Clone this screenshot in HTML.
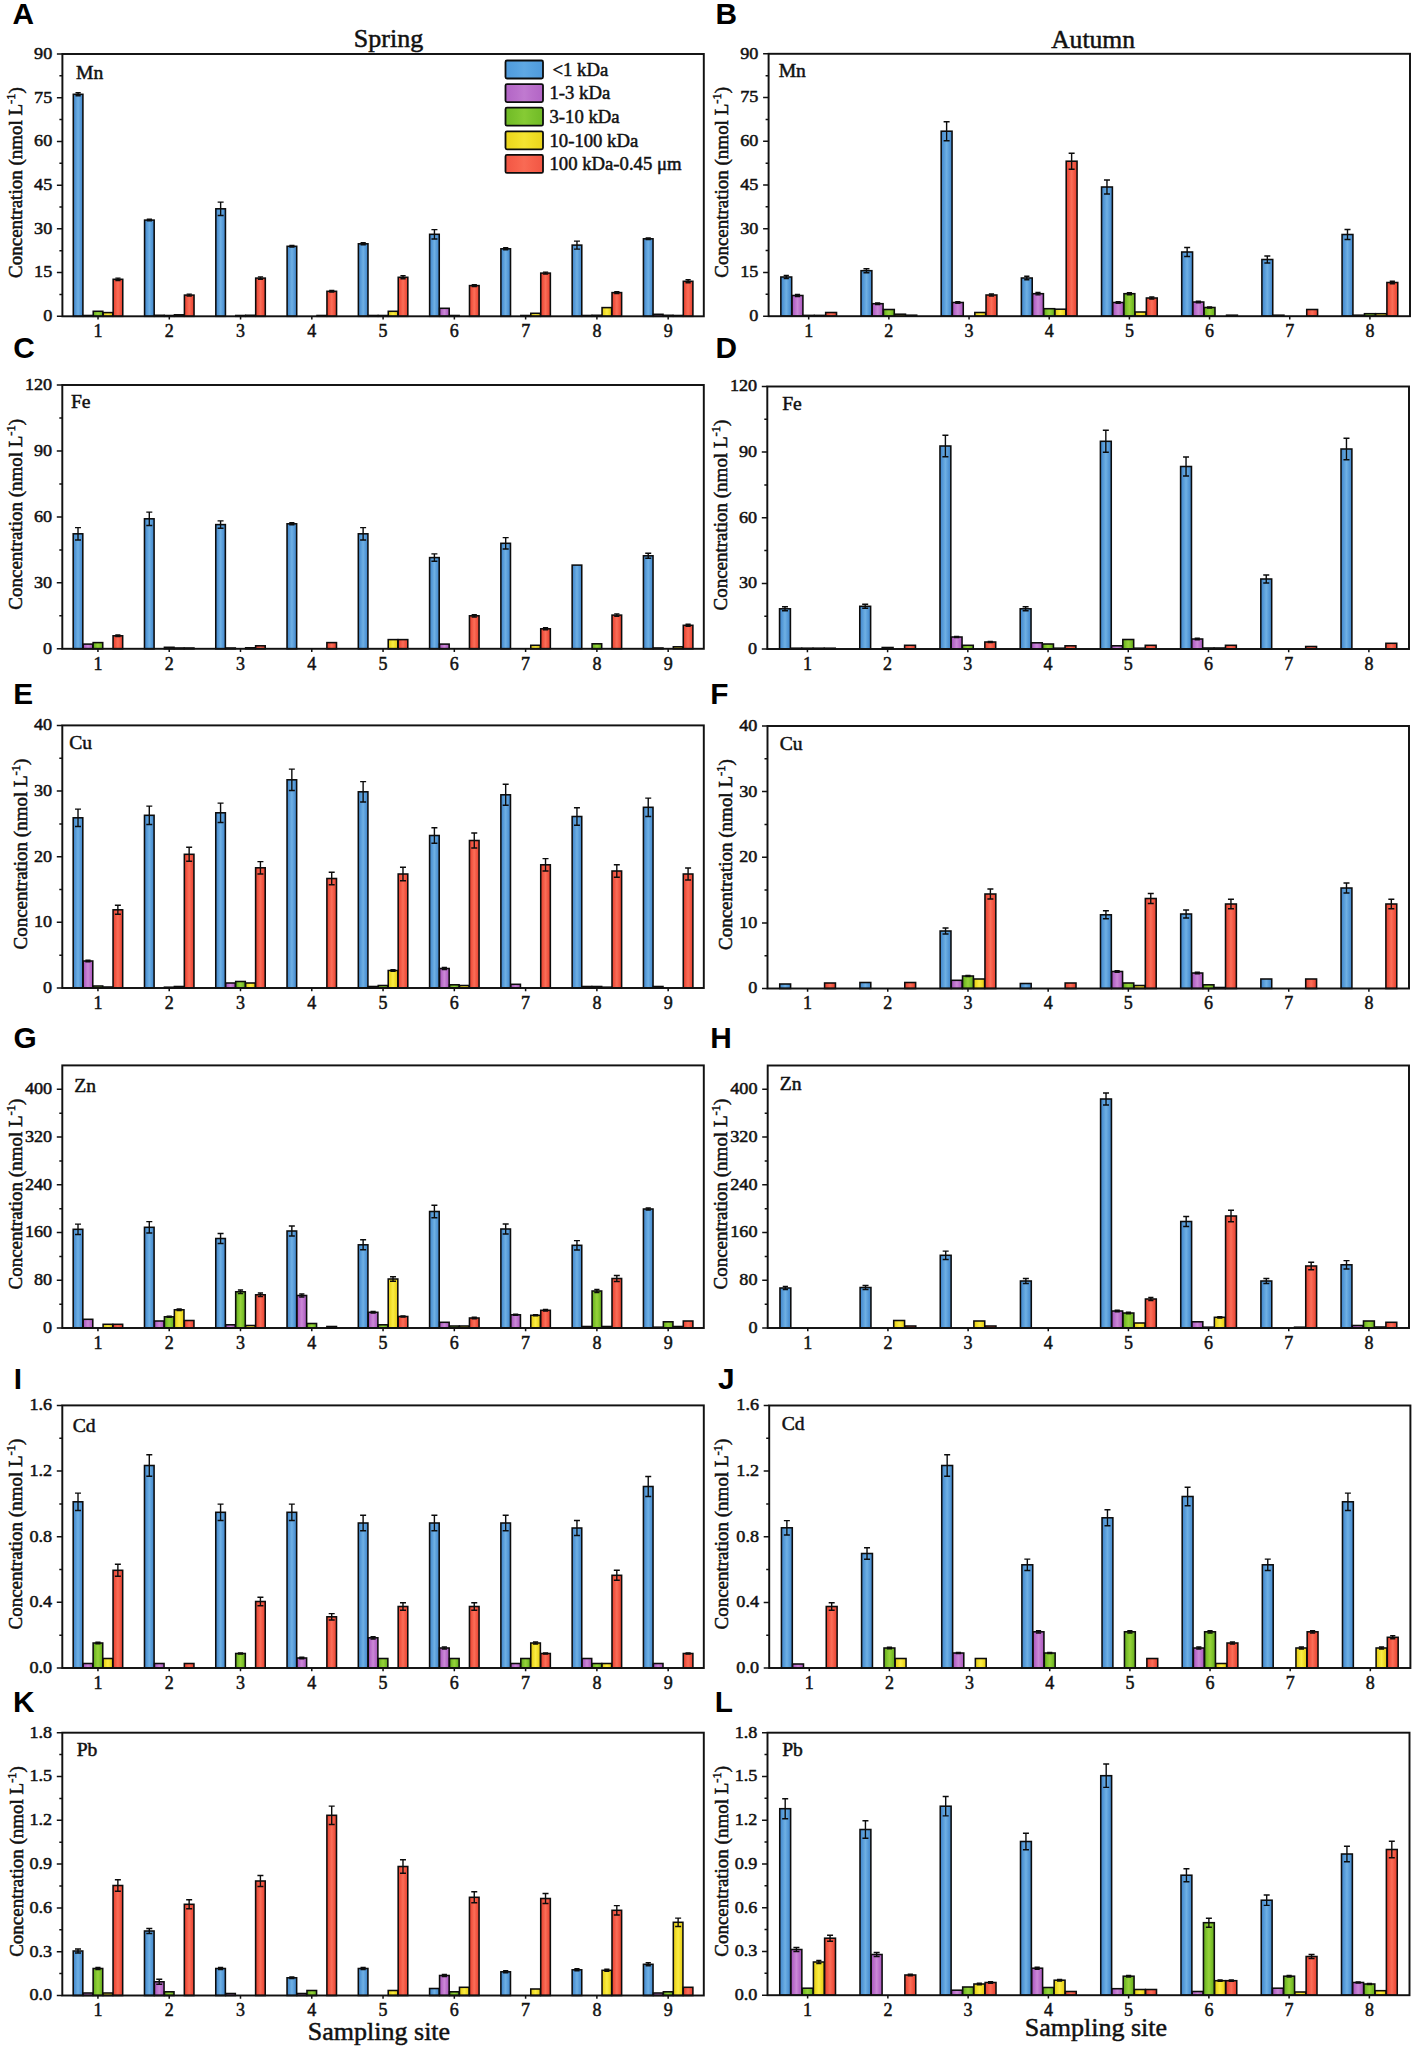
<!DOCTYPE html>
<html lang="en"><head><meta charset="utf-8"><title>Size-fractionated trace metals</title>
<style>html,body{margin:0;padding:0;background:#fff}svg{display:block}text{font-family:'Liberation Serif',serif;fill:#111;stroke:#111;stroke-width:0.5px;paint-order:stroke}.yt{font-size:16.8px;text-anchor:end}.xt{font-size:18px;text-anchor:middle}.el{font-size:19.6px}.yl{font-size:19px;text-anchor:middle}.lt{font-family:'Liberation Sans',sans-serif;font-weight:bold;font-size:29.8px;fill:#000;stroke:none}.ti{font-size:26.3px;text-anchor:middle}.xl{font-size:26px;text-anchor:middle}.lg{font-size:18.7px}.ax{stroke:#111;stroke-width:1.95;fill:none}.tk{stroke:#111;stroke-width:1.5;fill:none}.bar{stroke:#0c0c0c;stroke-width:1.55}.eb{stroke:#0c0c0c;stroke-width:1.4;fill:none}</style></head><body>
<svg width="1417" height="2056" viewBox="0 0 1417 2056">
<defs>
<linearGradient id="gb" x1="0" y1="0" x2="1" y2="0"><stop offset="0" stop-color="#3f84cb"/><stop offset="0.3" stop-color="#5a9eda"/><stop offset="0.5" stop-color="#6fb0e4"/><stop offset="0.7" stop-color="#5a9eda"/><stop offset="1" stop-color="#3f84cb"/></linearGradient>
<linearGradient id="gp" x1="0" y1="0" x2="1" y2="0"><stop offset="0" stop-color="#a955bd"/><stop offset="0.3" stop-color="#bd72cc"/><stop offset="0.5" stop-color="#cb88d6"/><stop offset="0.7" stop-color="#bd72cc"/><stop offset="1" stop-color="#a955bd"/></linearGradient>
<linearGradient id="gg" x1="0" y1="0" x2="1" y2="0"><stop offset="0" stop-color="#62a81c"/><stop offset="0.3" stop-color="#82c62e"/><stop offset="0.5" stop-color="#96d23a"/><stop offset="0.7" stop-color="#82c62e"/><stop offset="1" stop-color="#62a81c"/></linearGradient>
<linearGradient id="gy" x1="0" y1="0" x2="1" y2="0"><stop offset="0" stop-color="#e2c814"/><stop offset="0.3" stop-color="#f3e02c"/><stop offset="0.5" stop-color="#faec44"/><stop offset="0.7" stop-color="#f3e02c"/><stop offset="1" stop-color="#e2c814"/></linearGradient>
<linearGradient id="gr" x1="0" y1="0" x2="1" y2="0"><stop offset="0" stop-color="#e6402f"/><stop offset="0.3" stop-color="#f45a46"/><stop offset="0.5" stop-color="#fa6e58"/><stop offset="0.7" stop-color="#f45a46"/><stop offset="1" stop-color="#e6402f"/></linearGradient>
<linearGradient id="lb" x1="0" y1="0" x2="1" y2="0"><stop offset="0" stop-color="#4f9adb"/><stop offset="0.3" stop-color="#57a2e0"/><stop offset="0.5" stop-color="#5fa8e3"/><stop offset="0.7" stop-color="#57a2e0"/><stop offset="1" stop-color="#4f9adb"/></linearGradient>
<linearGradient id="lp" x1="0" y1="0" x2="1" y2="0"><stop offset="0" stop-color="#b265c5"/><stop offset="0.3" stop-color="#ba70cb"/><stop offset="0.5" stop-color="#c07ad0"/><stop offset="0.7" stop-color="#ba70cb"/><stop offset="1" stop-color="#b265c5"/></linearGradient>
<linearGradient id="lgn" x1="0" y1="0" x2="1" y2="0"><stop offset="0" stop-color="#70ba26"/><stop offset="0.3" stop-color="#7cc42e"/><stop offset="0.5" stop-color="#86cb34"/><stop offset="0.7" stop-color="#7cc42e"/><stop offset="1" stop-color="#70ba26"/></linearGradient>
<linearGradient id="ly" x1="0" y1="0" x2="1" y2="0"><stop offset="0" stop-color="#ead41c"/><stop offset="0.3" stop-color="#f1de26"/><stop offset="0.5" stop-color="#f5e432"/><stop offset="0.7" stop-color="#f1de26"/><stop offset="1" stop-color="#ead41c"/></linearGradient>
<linearGradient id="lr" x1="0" y1="0" x2="1" y2="0"><stop offset="0" stop-color="#f15644"/><stop offset="0.3" stop-color="#f7614c"/><stop offset="0.5" stop-color="#f96a54"/><stop offset="0.7" stop-color="#f7614c"/><stop offset="1" stop-color="#f15644"/></linearGradient>
</defs>
<rect width="1417" height="2056" fill="#fff"/>
<g id="panel-A">
<rect class="bar" x="73.3" y="94.3" width="9.61" height="222" fill="url(#gb)"/>
<path class="eb" d="M78.11 92.8V95.8M75.51 92.8H80.71M75.51 95.8H80.71"/>
<rect class="bar" x="83.26" y="315.5" width="9.61" height="0.8" fill="url(#gp)"/>
<rect class="bar" x="93.23" y="311.3" width="9.61" height="5" fill="url(#gg)"/>
<rect class="bar" x="103.19" y="312.6" width="9.61" height="3.7" fill="url(#gy)"/>
<rect class="bar" x="113.15" y="279.3" width="9.61" height="37" fill="url(#gr)"/>
<path class="eb" d="M117.96 278.1V280.5M115.36 278.1H120.56M115.36 280.5H120.56"/>
<rect class="bar" x="144.57" y="220.1" width="9.61" height="96.2" fill="url(#gb)"/>
<path class="eb" d="M149.37 219.3V220.9M146.77 219.3H151.97M146.77 220.9H151.97"/>
<rect class="bar" x="154.53" y="315.3" width="9.61" height="1" fill="url(#gp)"/>
<rect class="bar" x="164.49" y="315.5" width="9.61" height="0.8" fill="url(#gg)"/>
<rect class="bar" x="174.46" y="314.8" width="9.61" height="1.5" fill="url(#gy)"/>
<rect class="bar" x="184.42" y="295.1" width="9.61" height="21.2" fill="url(#gr)"/>
<path class="eb" d="M189.23 294.1V296.1M186.63 294.1H191.83M186.63 296.1H191.83"/>
<rect class="bar" x="215.83" y="208.8" width="9.61" height="107.5" fill="url(#gb)"/>
<path class="eb" d="M220.64 202.1V215.5M217.64 202.1H223.64M217.64 215.5H223.64"/>
<rect class="bar" x="235.76" y="315.5" width="9.61" height="0.8" fill="url(#gg)"/>
<rect class="bar" x="245.72" y="315.3" width="9.61" height="1" fill="url(#gy)"/>
<rect class="bar" x="255.69" y="278.1" width="9.61" height="38.2" fill="url(#gr)"/>
<path class="eb" d="M260.49 276.9V279.3M257.89 276.9H263.09M257.89 279.3H263.09"/>
<rect class="bar" x="287.1" y="246.3" width="9.61" height="70" fill="url(#gb)"/>
<path class="eb" d="M291.91 245.5V247.1M289.31 245.5H294.51M289.31 247.1H294.51"/>
<rect class="bar" x="316.99" y="315.5" width="9.61" height="0.8" fill="url(#gy)"/>
<rect class="bar" x="326.95" y="291.3" width="9.61" height="25" fill="url(#gr)"/>
<path class="eb" d="M331.76 290.5V292.1M329.16 290.5H334.36M329.16 292.1H334.36"/>
<rect class="bar" x="358.37" y="243.8" width="9.61" height="72.5" fill="url(#gb)"/>
<path class="eb" d="M363.17 242.8V244.8M360.57 242.8H365.77M360.57 244.8H365.77"/>
<rect class="bar" x="368.33" y="315.5" width="9.61" height="0.8" fill="url(#gp)"/>
<rect class="bar" x="378.29" y="315.5" width="9.61" height="0.8" fill="url(#gg)"/>
<rect class="bar" x="388.26" y="311.3" width="9.61" height="5" fill="url(#gy)"/>
<rect class="bar" x="398.22" y="277.3" width="9.61" height="39" fill="url(#gr)"/>
<path class="eb" d="M403.03 275.8V278.8M400.43 275.8H405.63M400.43 278.8H405.63"/>
<rect class="bar" x="429.63" y="234.3" width="9.61" height="82" fill="url(#gb)"/>
<path class="eb" d="M434.44 229.6V239M431.44 229.6H437.44M431.44 239H437.44"/>
<rect class="bar" x="439.6" y="308.3" width="9.61" height="8" fill="url(#gp)"/>
<rect class="bar" x="449.56" y="315.5" width="9.61" height="0.8" fill="url(#gg)"/>
<rect class="bar" x="469.49" y="285.6" width="9.61" height="30.7" fill="url(#gr)"/>
<path class="eb" d="M474.29 284.6V286.6M471.69 284.6H476.89M471.69 286.6H476.89"/>
<rect class="bar" x="500.9" y="248.8" width="9.61" height="67.5" fill="url(#gb)"/>
<path class="eb" d="M505.71 247.8V249.8M503.11 247.8H508.31M503.11 249.8H508.31"/>
<rect class="bar" x="520.83" y="315.5" width="9.61" height="0.8" fill="url(#gg)"/>
<rect class="bar" x="530.79" y="313.3" width="9.61" height="3" fill="url(#gy)"/>
<rect class="bar" x="540.75" y="273.1" width="9.61" height="43.2" fill="url(#gr)"/>
<path class="eb" d="M545.56 272.1V274.1M542.96 272.1H548.16M542.96 274.1H548.16"/>
<rect class="bar" x="572.17" y="245.1" width="9.61" height="71.2" fill="url(#gb)"/>
<path class="eb" d="M576.97 241.1V249.1M573.97 241.1H579.97M573.97 249.1H579.97"/>
<rect class="bar" x="582.13" y="315.5" width="9.61" height="0.8" fill="url(#gp)"/>
<rect class="bar" x="592.09" y="315.3" width="9.61" height="1" fill="url(#gg)"/>
<rect class="bar" x="602.06" y="307.6" width="9.61" height="8.7" fill="url(#gy)"/>
<rect class="bar" x="612.02" y="292.6" width="9.61" height="23.7" fill="url(#gr)"/>
<path class="eb" d="M616.83 291.6V293.6M614.23 291.6H619.43M614.23 293.6H619.43"/>
<rect class="bar" x="643.43" y="238.8" width="9.61" height="77.5" fill="url(#gb)"/>
<path class="eb" d="M648.24 238V239.6M645.64 238H650.84M645.64 239.6H650.84"/>
<rect class="bar" x="653.4" y="314.3" width="9.61" height="2" fill="url(#gp)"/>
<rect class="bar" x="663.36" y="315.3" width="9.61" height="1" fill="url(#gg)"/>
<rect class="bar" x="673.32" y="315.5" width="9.61" height="0.8" fill="url(#gy)"/>
<rect class="bar" x="683.29" y="281.3" width="9.61" height="35" fill="url(#gr)"/>
<path class="eb" d="M688.09 279.8V282.8M685.49 279.8H690.69M685.49 282.8H690.69"/>
<rect class="ax" x="62.4" y="54" width="641.4" height="262.3"/>
<text class="yt" transform="translate(52.2 321.2) scale(1.08 1)">0</text>
<text class="yt" transform="translate(52.2 277.48) scale(1.08 1)">15</text>
<text class="yt" transform="translate(52.2 233.77) scale(1.08 1)">30</text>
<text class="yt" transform="translate(52.2 190.05) scale(1.08 1)">45</text>
<text class="yt" transform="translate(52.2 146.33) scale(1.08 1)">60</text>
<text class="yt" transform="translate(52.2 102.62) scale(1.08 1)">75</text>
<text class="yt" transform="translate(52.2 58.9) scale(1.08 1)">90</text>
<text class="xt" x="98.03" y="337">1</text>
<text class="xt" x="169.3" y="337">2</text>
<text class="xt" x="240.57" y="337">3</text>
<text class="xt" x="311.83" y="337">4</text>
<text class="xt" x="383.1" y="337">5</text>
<text class="xt" x="454.37" y="337">6</text>
<text class="xt" x="525.63" y="337">7</text>
<text class="xt" x="596.9" y="337">8</text>
<text class="xt" x="668.17" y="337">9</text>
<path class="tk" d="M56.9 316.3H62.4M56.9 272.58H62.4M56.9 228.87H62.4M56.9 185.15H62.4M56.9 141.43H62.4M56.9 97.72H62.4M56.9 54H62.4M59.4 294.44H62.4M59.4 250.73H62.4M59.4 207.01H62.4M59.4 163.29H62.4M59.4 119.58H62.4M59.4 75.86H62.4M98.03 316.3V319.5M169.3 316.3V319.5M240.57 316.3V319.5M311.83 316.3V319.5M383.1 316.3V319.5M454.37 316.3V319.5M525.63 316.3V319.5M596.9 316.3V319.5M668.17 316.3V319.5"/>
<text class="el" x="76" y="78.6">Mn</text>
<text class="yl" transform="translate(22 182.55) rotate(-90) scale(1 0.98)">Concentration (nmol L<tspan font-size="12.5" dy="-7">-1</tspan><tspan dy="7">)</tspan></text>
<text class="lt" x="12.46" y="23.7">A</text>
</g>
<g id="panel-B">
<rect class="bar" x="780.84" y="277" width="10.86" height="39.2" fill="url(#gb)"/>
<path class="eb" d="M786.27 275.5V278.5M783.67 275.5H788.87M783.67 278.5H788.87"/>
<rect class="bar" x="792.05" y="295.5" width="10.86" height="20.7" fill="url(#gp)"/>
<path class="eb" d="M797.48 294.5V296.5M794.88 294.5H800.08M794.88 296.5H800.08"/>
<rect class="bar" x="803.26" y="315.4" width="10.86" height="0.8" fill="url(#gg)"/>
<rect class="bar" x="814.47" y="315.4" width="10.86" height="0.8" fill="url(#gy)"/>
<rect class="bar" x="825.68" y="312.5" width="10.86" height="3.7" fill="url(#gr)"/>
<rect class="bar" x="861.02" y="270.7" width="10.86" height="45.5" fill="url(#gb)"/>
<path class="eb" d="M866.45 268.7V272.7M863.45 268.7H869.45M863.45 272.7H869.45"/>
<rect class="bar" x="872.22" y="303.7" width="10.86" height="12.5" fill="url(#gp)"/>
<path class="eb" d="M877.65 302.9V304.5M875.05 302.9H880.25M875.05 304.5H880.25"/>
<rect class="bar" x="883.43" y="309.5" width="10.86" height="6.7" fill="url(#gg)"/>
<rect class="bar" x="894.64" y="314.2" width="10.86" height="2" fill="url(#gy)"/>
<rect class="bar" x="905.85" y="315.2" width="10.86" height="1" fill="url(#gr)"/>
<rect class="bar" x="941.19" y="131.2" width="10.86" height="185" fill="url(#gb)"/>
<path class="eb" d="M946.62 121.7V140.7M943.62 121.7H949.62M943.62 140.7H949.62"/>
<rect class="bar" x="952.4" y="302.5" width="10.86" height="13.7" fill="url(#gp)"/>
<path class="eb" d="M957.83 301.7V303.3M955.23 301.7H960.43M955.23 303.3H960.43"/>
<rect class="bar" x="974.82" y="312.5" width="10.86" height="3.7" fill="url(#gy)"/>
<rect class="bar" x="986.03" y="295" width="10.86" height="21.2" fill="url(#gr)"/>
<path class="eb" d="M991.45 294V296M988.85 294H994.05M988.85 296H994.05"/>
<rect class="bar" x="1021.37" y="278" width="10.86" height="38.2" fill="url(#gb)"/>
<path class="eb" d="M1026.8 276.2V279.8M1024.2 276.2H1029.4M1024.2 279.8H1029.4"/>
<rect class="bar" x="1032.57" y="293.7" width="10.86" height="22.5" fill="url(#gp)"/>
<path class="eb" d="M1038 292.5V294.9M1035.4 292.5H1040.6M1035.4 294.9H1040.6"/>
<rect class="bar" x="1043.78" y="308.7" width="10.86" height="7.5" fill="url(#gg)"/>
<rect class="bar" x="1054.99" y="309.2" width="10.86" height="7" fill="url(#gy)"/>
<rect class="bar" x="1066.2" y="161.2" width="10.86" height="155" fill="url(#gr)"/>
<path class="eb" d="M1071.63 153.2V169.2M1068.63 153.2H1074.63M1068.63 169.2H1074.63"/>
<rect class="bar" x="1101.54" y="187" width="10.86" height="129.2" fill="url(#gb)"/>
<path class="eb" d="M1106.97 180V194M1103.97 180H1109.97M1103.97 194H1109.97"/>
<rect class="bar" x="1112.75" y="302.5" width="10.86" height="13.7" fill="url(#gp)"/>
<path class="eb" d="M1118.18 301.7V303.3M1115.58 301.7H1120.78M1115.58 303.3H1120.78"/>
<rect class="bar" x="1123.96" y="293.7" width="10.86" height="22.5" fill="url(#gg)"/>
<path class="eb" d="M1129.39 292.7V294.7M1126.79 292.7H1131.99M1126.79 294.7H1131.99"/>
<rect class="bar" x="1135.17" y="312" width="10.86" height="4.2" fill="url(#gy)"/>
<rect class="bar" x="1146.38" y="298" width="10.86" height="18.2" fill="url(#gr)"/>
<path class="eb" d="M1151.8 297V299M1149.2 297H1154.4M1149.2 299H1154.4"/>
<rect class="bar" x="1181.72" y="252" width="10.86" height="64.2" fill="url(#gb)"/>
<path class="eb" d="M1187.15 247.5V256.5M1184.15 247.5H1190.15M1184.15 256.5H1190.15"/>
<rect class="bar" x="1192.92" y="302" width="10.86" height="14.2" fill="url(#gp)"/>
<path class="eb" d="M1198.35 301.2V302.8M1195.75 301.2H1200.95M1195.75 302.8H1200.95"/>
<rect class="bar" x="1204.13" y="307.5" width="10.86" height="8.7" fill="url(#gg)"/>
<path class="eb" d="M1209.56 306.9V308.1M1206.96 306.9H1212.16M1206.96 308.1H1212.16"/>
<rect class="bar" x="1226.55" y="315.2" width="10.86" height="1" fill="url(#gr)"/>
<rect class="bar" x="1261.89" y="259.5" width="10.86" height="56.7" fill="url(#gb)"/>
<path class="eb" d="M1267.32 256V263M1264.32 256H1270.32M1264.32 263H1270.32"/>
<rect class="bar" x="1273.1" y="315.2" width="10.86" height="1" fill="url(#gp)"/>
<rect class="bar" x="1306.73" y="309.5" width="10.86" height="6.7" fill="url(#gr)"/>
<rect class="bar" x="1342.07" y="234.5" width="10.86" height="81.7" fill="url(#gb)"/>
<path class="eb" d="M1347.5 229.5V239.5M1344.5 229.5H1350.5M1344.5 239.5H1350.5"/>
<rect class="bar" x="1353.27" y="315.2" width="10.86" height="1" fill="url(#gp)"/>
<rect class="bar" x="1364.48" y="313.7" width="10.86" height="2.5" fill="url(#gg)"/>
<rect class="bar" x="1375.69" y="313.7" width="10.86" height="2.5" fill="url(#gy)"/>
<rect class="bar" x="1386.9" y="282.5" width="10.86" height="33.7" fill="url(#gr)"/>
<path class="eb" d="M1392.33 281.3V283.7M1389.73 281.3H1394.93M1389.73 283.7H1394.93"/>
<rect class="ax" x="768.6" y="53.8" width="641.4" height="262.4"/>
<text class="yt" transform="translate(758.4 321.1) scale(1.08 1)">0</text>
<text class="yt" transform="translate(758.4 277.37) scale(1.08 1)">15</text>
<text class="yt" transform="translate(758.4 233.63) scale(1.08 1)">30</text>
<text class="yt" transform="translate(758.4 189.9) scale(1.08 1)">45</text>
<text class="yt" transform="translate(758.4 146.17) scale(1.08 1)">60</text>
<text class="yt" transform="translate(758.4 102.43) scale(1.08 1)">75</text>
<text class="yt" transform="translate(758.4 58.7) scale(1.08 1)">90</text>
<text class="xt" x="808.69" y="336.9">1</text>
<text class="xt" x="888.86" y="336.9">2</text>
<text class="xt" x="969.04" y="336.9">3</text>
<text class="xt" x="1049.21" y="336.9">4</text>
<text class="xt" x="1129.39" y="336.9">5</text>
<text class="xt" x="1209.56" y="336.9">6</text>
<text class="xt" x="1289.74" y="336.9">7</text>
<text class="xt" x="1369.91" y="336.9">8</text>
<path class="tk" d="M763.1 316.2H768.6M763.1 272.47H768.6M763.1 228.73H768.6M763.1 185H768.6M763.1 141.27H768.6M763.1 97.53H768.6M763.1 53.8H768.6M765.6 294.33H768.6M765.6 250.6H768.6M765.6 206.87H768.6M765.6 163.13H768.6M765.6 119.4H768.6M765.6 75.67H768.6M808.69 316.2V319.4M888.86 316.2V319.4M969.04 316.2V319.4M1049.21 316.2V319.4M1129.39 316.2V319.4M1209.56 316.2V319.4M1289.74 316.2V319.4M1369.91 316.2V319.4"/>
<text class="el" x="778.7" y="77.2">Mn</text>
<text class="yl" transform="translate(728.3 182.4) rotate(-90) scale(1 0.98)">Concentration (nmol L<tspan font-size="12.5" dy="-7">-1</tspan><tspan dy="7">)</tspan></text>
<text class="lt" x="715.46" y="23.8">B</text>
</g>
<g id="panel-C">
<rect class="bar" x="73.2" y="533.8" width="9.61" height="115" fill="url(#gb)"/>
<path class="eb" d="M78.01 527.6V540M75.01 527.6H81.01M75.01 540H81.01"/>
<rect class="bar" x="83.17" y="644.1" width="9.61" height="4.7" fill="url(#gp)"/>
<rect class="bar" x="93.13" y="642.6" width="9.61" height="6.2" fill="url(#gg)"/>
<rect class="bar" x="113.06" y="635.8" width="9.61" height="13" fill="url(#gr)"/>
<path class="eb" d="M117.87 635V636.6M115.27 635H120.47M115.27 636.6H120.47"/>
<rect class="bar" x="144.48" y="518.8" width="9.61" height="130" fill="url(#gb)"/>
<path class="eb" d="M149.29 512.1V525.5M146.29 512.1H152.29M146.29 525.5H152.29"/>
<rect class="bar" x="164.41" y="647.3" width="9.61" height="1.5" fill="url(#gg)"/>
<rect class="bar" x="174.37" y="648" width="9.61" height="0.8" fill="url(#gy)"/>
<rect class="bar" x="184.34" y="648" width="9.61" height="0.8" fill="url(#gr)"/>
<rect class="bar" x="215.76" y="524.6" width="9.61" height="124.2" fill="url(#gb)"/>
<path class="eb" d="M220.57 520.9V528.3M217.57 520.9H223.57M217.57 528.3H223.57"/>
<rect class="bar" x="225.72" y="648" width="9.61" height="0.8" fill="url(#gp)"/>
<rect class="bar" x="245.65" y="647.8" width="9.61" height="1" fill="url(#gy)"/>
<rect class="bar" x="255.62" y="645.8" width="9.61" height="3" fill="url(#gr)"/>
<rect class="bar" x="287.04" y="523.8" width="9.61" height="125" fill="url(#gb)"/>
<path class="eb" d="M291.84 522.8V524.8M289.24 522.8H294.44M289.24 524.8H294.44"/>
<rect class="bar" x="326.89" y="642.6" width="9.61" height="6.2" fill="url(#gr)"/>
<rect class="bar" x="358.31" y="533.8" width="9.61" height="115" fill="url(#gb)"/>
<path class="eb" d="M363.12 527.6V540M360.12 527.6H366.12M360.12 540H366.12"/>
<rect class="bar" x="388.21" y="639.6" width="9.61" height="9.2" fill="url(#gy)"/>
<rect class="bar" x="398.17" y="639.6" width="9.61" height="9.2" fill="url(#gr)"/>
<rect class="bar" x="429.59" y="557.6" width="9.61" height="91.2" fill="url(#gb)"/>
<path class="eb" d="M434.4 553.9V561.3M431.4 553.9H437.4M431.4 561.3H437.4"/>
<rect class="bar" x="439.56" y="644.1" width="9.61" height="4.7" fill="url(#gp)"/>
<rect class="bar" x="469.45" y="615.8" width="9.61" height="33" fill="url(#gr)"/>
<path class="eb" d="M474.26 614.6V617M471.66 614.6H476.86M471.66 617H476.86"/>
<rect class="bar" x="500.87" y="543.3" width="9.61" height="105.5" fill="url(#gb)"/>
<path class="eb" d="M505.68 537.6V549M502.68 537.6H508.68M502.68 549H508.68"/>
<rect class="bar" x="530.76" y="645.3" width="9.61" height="3.5" fill="url(#gy)"/>
<rect class="bar" x="540.73" y="628.8" width="9.61" height="20" fill="url(#gr)"/>
<path class="eb" d="M545.53 627.8V629.8M542.93 627.8H548.13M542.93 629.8H548.13"/>
<rect class="bar" x="572.15" y="565.1" width="9.61" height="83.7" fill="url(#gb)"/>
<rect class="bar" x="592.08" y="643.8" width="9.61" height="5" fill="url(#gg)"/>
<rect class="bar" x="612.01" y="615.1" width="9.61" height="33.7" fill="url(#gr)"/>
<path class="eb" d="M616.81 613.9V616.3M614.21 613.9H619.41M614.21 616.3H619.41"/>
<rect class="bar" x="643.42" y="555.8" width="9.61" height="93" fill="url(#gb)"/>
<path class="eb" d="M648.23 553.3V558.3M645.23 553.3H651.23M645.23 558.3H651.23"/>
<rect class="bar" x="653.39" y="648" width="9.61" height="0.8" fill="url(#gp)"/>
<rect class="bar" x="673.32" y="646.8" width="9.61" height="2" fill="url(#gy)"/>
<rect class="bar" x="683.28" y="625.3" width="9.61" height="23.5" fill="url(#gr)"/>
<path class="eb" d="M688.09 624.3V626.3M685.49 624.3H690.69M685.49 626.3H690.69"/>
<rect class="ax" x="62.3" y="385" width="641.5" height="263.8"/>
<text class="yt" transform="translate(52.1 653.7) scale(1.08 1)">0</text>
<text class="yt" transform="translate(52.1 587.75) scale(1.08 1)">30</text>
<text class="yt" transform="translate(52.1 521.8) scale(1.08 1)">60</text>
<text class="yt" transform="translate(52.1 455.85) scale(1.08 1)">90</text>
<text class="yt" transform="translate(52.1 389.9) scale(1.08 1)">120</text>
<text class="xt" x="97.94" y="669.5">1</text>
<text class="xt" x="169.22" y="669.5">2</text>
<text class="xt" x="240.49" y="669.5">3</text>
<text class="xt" x="311.77" y="669.5">4</text>
<text class="xt" x="383.05" y="669.5">5</text>
<text class="xt" x="454.33" y="669.5">6</text>
<text class="xt" x="525.61" y="669.5">7</text>
<text class="xt" x="596.88" y="669.5">8</text>
<text class="xt" x="668.16" y="669.5">9</text>
<path class="tk" d="M56.8 648.8H62.3M56.8 582.85H62.3M56.8 516.9H62.3M56.8 450.95H62.3M56.8 385H62.3M59.3 615.82H62.3M59.3 549.88H62.3M59.3 483.92H62.3M59.3 417.98H62.3M97.94 648.8V652M169.22 648.8V652M240.49 648.8V652M311.77 648.8V652M383.05 648.8V652M454.33 648.8V652M525.61 648.8V652M596.88 648.8V652M668.16 648.8V652"/>
<text class="el" x="70.9" y="408.3">Fe</text>
<text class="yl" transform="translate(21.7 514.3) rotate(-90) scale(1 0.98)">Concentration (nmol L<tspan font-size="12.5" dy="-7">-1</tspan><tspan dy="7">)</tspan></text>
<text class="lt" x="13.21" y="357.7">C</text>
</g>
<g id="panel-D">
<rect class="bar" x="779.55" y="608.8" width="10.86" height="40.2" fill="url(#gb)"/>
<path class="eb" d="M784.98 606.8V610.8M781.98 606.8H787.98M781.98 610.8H787.98"/>
<rect class="bar" x="790.76" y="648.2" width="10.86" height="0.8" fill="url(#gp)"/>
<rect class="bar" x="801.97" y="648.2" width="10.86" height="0.8" fill="url(#gg)"/>
<rect class="bar" x="813.19" y="648.2" width="10.86" height="0.8" fill="url(#gy)"/>
<rect class="bar" x="824.4" y="648.2" width="10.86" height="0.8" fill="url(#gr)"/>
<rect class="bar" x="859.76" y="606.3" width="10.86" height="42.7" fill="url(#gb)"/>
<path class="eb" d="M865.19 604.3V608.3M862.19 604.3H868.19M862.19 608.3H868.19"/>
<rect class="bar" x="882.19" y="647.5" width="10.86" height="1.5" fill="url(#gg)"/>
<rect class="bar" x="904.61" y="645.3" width="10.86" height="3.7" fill="url(#gr)"/>
<rect class="bar" x="939.97" y="446" width="10.86" height="203" fill="url(#gb)"/>
<path class="eb" d="M945.4 435.3V456.7M942.4 435.3H948.4M942.4 456.7H948.4"/>
<rect class="bar" x="951.19" y="637" width="10.86" height="12" fill="url(#gp)"/>
<path class="eb" d="M956.62 636.4V637.6M954.02 636.4H959.22M954.02 637.6H959.22"/>
<rect class="bar" x="962.4" y="645.3" width="10.86" height="3.7" fill="url(#gg)"/>
<rect class="bar" x="984.83" y="642" width="10.86" height="7" fill="url(#gr)"/>
<path class="eb" d="M990.26 641.5V642.5M987.66 641.5H992.86M987.66 642.5H992.86"/>
<rect class="bar" x="1020.18" y="608.8" width="10.86" height="40.2" fill="url(#gb)"/>
<path class="eb" d="M1025.62 606.8V610.8M1022.62 606.8H1028.62M1022.62 610.8H1028.62"/>
<rect class="bar" x="1031.4" y="642.8" width="10.86" height="6.2" fill="url(#gp)"/>
<rect class="bar" x="1042.61" y="644" width="10.86" height="5" fill="url(#gg)"/>
<rect class="bar" x="1053.83" y="648.2" width="10.86" height="0.8" fill="url(#gy)"/>
<rect class="bar" x="1065.04" y="645.8" width="10.86" height="3.2" fill="url(#gr)"/>
<rect class="bar" x="1100.4" y="441.3" width="10.86" height="207.7" fill="url(#gb)"/>
<path class="eb" d="M1105.83 430.3V452.3M1102.83 430.3H1108.83M1102.83 452.3H1108.83"/>
<rect class="bar" x="1111.61" y="645.8" width="10.86" height="3.2" fill="url(#gp)"/>
<rect class="bar" x="1122.82" y="639.5" width="10.86" height="9.5" fill="url(#gg)"/>
<rect class="bar" x="1134.04" y="648.2" width="10.86" height="0.8" fill="url(#gy)"/>
<rect class="bar" x="1145.25" y="645.3" width="10.86" height="3.7" fill="url(#gr)"/>
<rect class="bar" x="1180.61" y="466.5" width="10.86" height="182.5" fill="url(#gb)"/>
<path class="eb" d="M1186.04 457V476M1183.04 457H1189.04M1183.04 476H1189.04"/>
<rect class="bar" x="1191.82" y="639" width="10.86" height="10" fill="url(#gp)"/>
<path class="eb" d="M1197.26 638.3V639.7M1194.66 638.3H1199.86M1194.66 639.7H1199.86"/>
<rect class="bar" x="1203.04" y="648" width="10.86" height="1" fill="url(#gg)"/>
<rect class="bar" x="1214.25" y="648" width="10.86" height="1" fill="url(#gy)"/>
<rect class="bar" x="1225.46" y="645.3" width="10.86" height="3.7" fill="url(#gr)"/>
<rect class="bar" x="1260.82" y="579" width="10.86" height="70" fill="url(#gb)"/>
<path class="eb" d="M1266.25 575V583M1263.25 575H1269.25M1263.25 583H1269.25"/>
<rect class="bar" x="1305.68" y="646.5" width="10.86" height="2.5" fill="url(#gr)"/>
<rect class="bar" x="1341.03" y="449" width="10.86" height="200" fill="url(#gb)"/>
<path class="eb" d="M1346.47 438.3V459.7M1343.47 438.3H1349.47M1343.47 459.7H1349.47"/>
<rect class="bar" x="1385.89" y="643.3" width="10.86" height="5.7" fill="url(#gr)"/>
<rect class="ax" x="767.3" y="386.5" width="641.7" height="262.5"/>
<text class="yt" transform="translate(757.1 653.9) scale(1.08 1)">0</text>
<text class="yt" transform="translate(757.1 588.27) scale(1.08 1)">30</text>
<text class="yt" transform="translate(757.1 522.65) scale(1.08 1)">60</text>
<text class="yt" transform="translate(757.1 457.02) scale(1.08 1)">90</text>
<text class="yt" transform="translate(757.1 391.4) scale(1.08 1)">120</text>
<text class="xt" x="807.41" y="669.7">1</text>
<text class="xt" x="887.62" y="669.7">2</text>
<text class="xt" x="967.83" y="669.7">3</text>
<text class="xt" x="1048.04" y="669.7">4</text>
<text class="xt" x="1128.26" y="669.7">5</text>
<text class="xt" x="1208.47" y="669.7">6</text>
<text class="xt" x="1288.68" y="669.7">7</text>
<text class="xt" x="1368.89" y="669.7">8</text>
<path class="tk" d="M761.8 649H767.3M761.8 583.38H767.3M761.8 517.75H767.3M761.8 452.12H767.3M761.8 386.5H767.3M764.3 616.19H767.3M764.3 550.56H767.3M764.3 484.94H767.3M764.3 419.31H767.3M807.41 649V652.2M887.62 649V652.2M967.83 649V652.2M1048.04 649V652.2M1128.26 649V652.2M1208.47 649V652.2M1288.68 649V652.2M1368.89 649V652.2"/>
<text class="el" x="782.2" y="410.1">Fe</text>
<text class="yl" transform="translate(726.7 515.15) rotate(-90) scale(1 0.98)">Concentration (nmol L<tspan font-size="12.5" dy="-7">-1</tspan><tspan dy="7">)</tspan></text>
<text class="lt" x="715.46" y="357.6">D</text>
</g>
<g id="panel-E">
<rect class="bar" x="73.2" y="817.8" width="9.61" height="170.2" fill="url(#gb)"/>
<path class="eb" d="M78.01 809.1V826.5M75.01 809.1H81.01M75.01 826.5H81.01"/>
<rect class="bar" x="83.17" y="961" width="9.61" height="27" fill="url(#gp)"/>
<path class="eb" d="M87.97 960.2V961.8M85.37 960.2H90.57M85.37 961.8H90.57"/>
<rect class="bar" x="93.13" y="986" width="9.61" height="2" fill="url(#gg)"/>
<rect class="bar" x="103.1" y="987" width="9.61" height="1" fill="url(#gy)"/>
<rect class="bar" x="113.06" y="909.8" width="9.61" height="78.2" fill="url(#gr)"/>
<path class="eb" d="M117.87 905.3V914.3M114.87 905.3H120.87M114.87 914.3H120.87"/>
<rect class="bar" x="144.48" y="815.3" width="9.61" height="172.7" fill="url(#gb)"/>
<path class="eb" d="M149.29 806.1V824.5M146.29 806.1H152.29M146.29 824.5H152.29"/>
<rect class="bar" x="164.41" y="987.2" width="9.61" height="0.8" fill="url(#gg)"/>
<rect class="bar" x="174.37" y="986.5" width="9.61" height="1.5" fill="url(#gy)"/>
<rect class="bar" x="184.34" y="854.3" width="9.61" height="133.7" fill="url(#gr)"/>
<path class="eb" d="M189.15 847.3V861.3M186.15 847.3H192.15M186.15 861.3H192.15"/>
<rect class="bar" x="215.76" y="812.8" width="9.61" height="175.2" fill="url(#gb)"/>
<path class="eb" d="M220.57 803.1V822.5M217.57 803.1H223.57M217.57 822.5H223.57"/>
<rect class="bar" x="225.72" y="983" width="9.61" height="5" fill="url(#gp)"/>
<rect class="bar" x="235.69" y="981.5" width="9.61" height="6.5" fill="url(#gg)"/>
<rect class="bar" x="245.65" y="983" width="9.61" height="5" fill="url(#gy)"/>
<rect class="bar" x="255.62" y="867.8" width="9.61" height="120.2" fill="url(#gr)"/>
<path class="eb" d="M260.42 861.6V874M257.42 861.6H263.42M257.42 874H263.42"/>
<rect class="bar" x="287.04" y="779.8" width="9.61" height="208.2" fill="url(#gb)"/>
<path class="eb" d="M291.84 769.1V790.5M288.84 769.1H294.84M288.84 790.5H294.84"/>
<rect class="bar" x="326.89" y="878.5" width="9.61" height="109.5" fill="url(#gr)"/>
<path class="eb" d="M331.7 872.3V884.7M328.7 872.3H334.7M328.7 884.7H334.7"/>
<rect class="bar" x="358.31" y="791.8" width="9.61" height="196.2" fill="url(#gb)"/>
<path class="eb" d="M363.12 781.6V802M360.12 781.6H366.12M360.12 802H366.12"/>
<rect class="bar" x="368.28" y="986.5" width="9.61" height="1.5" fill="url(#gp)"/>
<rect class="bar" x="378.24" y="985.5" width="9.61" height="2.5" fill="url(#gg)"/>
<rect class="bar" x="388.21" y="970.5" width="9.61" height="17.5" fill="url(#gy)"/>
<path class="eb" d="M393.01 969.7V971.3M390.41 969.7H395.61M390.41 971.3H395.61"/>
<rect class="bar" x="398.17" y="874" width="9.61" height="114" fill="url(#gr)"/>
<path class="eb" d="M402.98 867.3V880.7M399.98 867.3H405.98M399.98 880.7H405.98"/>
<rect class="bar" x="429.59" y="835.5" width="9.61" height="152.5" fill="url(#gb)"/>
<path class="eb" d="M434.4 827.8V843.2M431.4 827.8H437.4M431.4 843.2H437.4"/>
<rect class="bar" x="439.56" y="968.5" width="9.61" height="19.5" fill="url(#gp)"/>
<path class="eb" d="M444.36 967.5V969.5M441.76 967.5H446.96M441.76 969.5H446.96"/>
<rect class="bar" x="449.52" y="984.8" width="9.61" height="3.2" fill="url(#gg)"/>
<rect class="bar" x="459.49" y="985.5" width="9.61" height="2.5" fill="url(#gy)"/>
<rect class="bar" x="469.45" y="840.5" width="9.61" height="147.5" fill="url(#gr)"/>
<path class="eb" d="M474.26 833V848M471.26 833H477.26M471.26 848H477.26"/>
<rect class="bar" x="500.87" y="794.8" width="9.61" height="193.2" fill="url(#gb)"/>
<path class="eb" d="M505.68 784.3V805.3M502.68 784.3H508.68M502.68 805.3H508.68"/>
<rect class="bar" x="510.83" y="984.3" width="9.61" height="3.7" fill="url(#gp)"/>
<rect class="bar" x="540.73" y="864.8" width="9.61" height="123.2" fill="url(#gr)"/>
<path class="eb" d="M545.53 858.6V871M542.53 858.6H548.53M542.53 871H548.53"/>
<rect class="bar" x="572.15" y="816.5" width="9.61" height="171.5" fill="url(#gb)"/>
<path class="eb" d="M576.95 807.8V825.2M573.95 807.8H579.95M573.95 825.2H579.95"/>
<rect class="bar" x="582.11" y="986.5" width="9.61" height="1.5" fill="url(#gp)"/>
<rect class="bar" x="592.08" y="986.5" width="9.61" height="1.5" fill="url(#gg)"/>
<rect class="bar" x="602.04" y="987.2" width="9.61" height="0.8" fill="url(#gy)"/>
<rect class="bar" x="612.01" y="871" width="9.61" height="117" fill="url(#gr)"/>
<path class="eb" d="M616.81 864.8V877.2M613.81 864.8H619.81M613.81 877.2H619.81"/>
<rect class="bar" x="643.42" y="807.3" width="9.61" height="180.7" fill="url(#gb)"/>
<path class="eb" d="M648.23 798.1V816.5M645.23 798.1H651.23M645.23 816.5H651.23"/>
<rect class="bar" x="653.39" y="986.5" width="9.61" height="1.5" fill="url(#gp)"/>
<rect class="bar" x="683.28" y="874" width="9.61" height="114" fill="url(#gr)"/>
<path class="eb" d="M688.09 868V880M685.09 868H691.09M685.09 880H691.09"/>
<rect class="ax" x="62.3" y="725.4" width="641.5" height="262.6"/>
<text class="yt" transform="translate(52.1 992.9) scale(1.08 1)">0</text>
<text class="yt" transform="translate(52.1 927.25) scale(1.08 1)">10</text>
<text class="yt" transform="translate(52.1 861.6) scale(1.08 1)">20</text>
<text class="yt" transform="translate(52.1 795.95) scale(1.08 1)">30</text>
<text class="yt" transform="translate(52.1 730.3) scale(1.08 1)">40</text>
<text class="xt" x="97.94" y="1008.7">1</text>
<text class="xt" x="169.22" y="1008.7">2</text>
<text class="xt" x="240.49" y="1008.7">3</text>
<text class="xt" x="311.77" y="1008.7">4</text>
<text class="xt" x="383.05" y="1008.7">5</text>
<text class="xt" x="454.33" y="1008.7">6</text>
<text class="xt" x="525.61" y="1008.7">7</text>
<text class="xt" x="596.88" y="1008.7">8</text>
<text class="xt" x="668.16" y="1008.7">9</text>
<path class="tk" d="M56.8 988H62.3M56.8 922.35H62.3M56.8 856.7H62.3M56.8 791.05H62.3M56.8 725.4H62.3M59.3 955.17H62.3M59.3 889.52H62.3M59.3 823.88H62.3M59.3 758.23H62.3M97.94 988V991.2M169.22 988V991.2M240.49 988V991.2M311.77 988V991.2M383.05 988V991.2M454.33 988V991.2M525.61 988V991.2M596.88 988V991.2M668.16 988V991.2"/>
<text class="el" x="69.2" y="749">Cu</text>
<text class="yl" transform="translate(26.8 854.1) rotate(-90) scale(1 0.98)">Concentration (nmol L<tspan font-size="12.5" dy="-7">-1</tspan><tspan dy="7">)</tspan></text>
<text class="lt" x="13.36" y="703.7">E</text>
</g>
<g id="panel-F">
<rect class="bar" x="779.74" y="984" width="10.86" height="4.5" fill="url(#gb)"/>
<rect class="bar" x="824.58" y="983" width="10.86" height="5.5" fill="url(#gr)"/>
<rect class="bar" x="859.93" y="982.5" width="10.86" height="6" fill="url(#gb)"/>
<rect class="bar" x="904.77" y="982.5" width="10.86" height="6" fill="url(#gr)"/>
<rect class="bar" x="940.12" y="931" width="10.86" height="57.5" fill="url(#gb)"/>
<path class="eb" d="M945.55 928V934M942.55 928H948.55M942.55 934H948.55"/>
<rect class="bar" x="951.33" y="980.3" width="10.86" height="8.2" fill="url(#gp)"/>
<rect class="bar" x="962.54" y="976" width="10.86" height="12.5" fill="url(#gg)"/>
<path class="eb" d="M967.97 975.4V976.6M965.37 975.4H970.57M965.37 976.6H970.57"/>
<rect class="bar" x="973.75" y="979" width="10.86" height="9.5" fill="url(#gy)"/>
<rect class="bar" x="984.96" y="894" width="10.86" height="94.5" fill="url(#gr)"/>
<path class="eb" d="M990.39 889V899M987.39 889H993.39M987.39 899H993.39"/>
<rect class="bar" x="1020.31" y="983.5" width="10.86" height="5" fill="url(#gb)"/>
<rect class="bar" x="1065.15" y="983" width="10.86" height="5.5" fill="url(#gr)"/>
<rect class="bar" x="1100.49" y="914.8" width="10.86" height="73.7" fill="url(#gb)"/>
<path class="eb" d="M1105.92 910.8V918.8M1102.92 910.8H1108.92M1102.92 918.8H1108.92"/>
<rect class="bar" x="1111.7" y="971.5" width="10.86" height="17" fill="url(#gp)"/>
<path class="eb" d="M1117.13 970.7V972.3M1114.53 970.7H1119.73M1114.53 972.3H1119.73"/>
<rect class="bar" x="1122.91" y="983" width="10.86" height="5.5" fill="url(#gg)"/>
<rect class="bar" x="1134.12" y="985.5" width="10.86" height="3" fill="url(#gy)"/>
<rect class="bar" x="1145.33" y="898.5" width="10.86" height="90" fill="url(#gr)"/>
<path class="eb" d="M1150.76 893.5V903.5M1147.76 893.5H1153.76M1147.76 903.5H1153.76"/>
<rect class="bar" x="1180.68" y="914" width="10.86" height="74.5" fill="url(#gb)"/>
<path class="eb" d="M1186.11 910V918M1183.11 910H1189.11M1183.11 918H1189.11"/>
<rect class="bar" x="1191.89" y="973" width="10.86" height="15.5" fill="url(#gp)"/>
<path class="eb" d="M1197.32 972.2V973.8M1194.72 972.2H1199.92M1194.72 973.8H1199.92"/>
<rect class="bar" x="1203.1" y="984.8" width="10.86" height="3.7" fill="url(#gg)"/>
<rect class="bar" x="1214.31" y="987.5" width="10.86" height="1" fill="url(#gy)"/>
<rect class="bar" x="1225.52" y="904" width="10.86" height="84.5" fill="url(#gr)"/>
<path class="eb" d="M1230.95 899.3V908.7M1227.95 899.3H1233.95M1227.95 908.7H1233.95"/>
<rect class="bar" x="1260.87" y="979" width="10.86" height="9.5" fill="url(#gb)"/>
<rect class="bar" x="1305.71" y="979" width="10.86" height="9.5" fill="url(#gr)"/>
<rect class="bar" x="1341.06" y="888" width="10.86" height="100.5" fill="url(#gb)"/>
<path class="eb" d="M1346.49 883V893M1343.49 883H1349.49M1343.49 893H1349.49"/>
<rect class="bar" x="1385.9" y="904" width="10.86" height="84.5" fill="url(#gr)"/>
<path class="eb" d="M1391.33 899.3V908.7M1388.33 899.3H1394.33M1388.33 908.7H1394.33"/>
<rect class="ax" x="767.5" y="726" width="641.5" height="262.5"/>
<text class="yt" transform="translate(757.3 993.4) scale(1.08 1)">0</text>
<text class="yt" transform="translate(757.3 927.77) scale(1.08 1)">10</text>
<text class="yt" transform="translate(757.3 862.15) scale(1.08 1)">20</text>
<text class="yt" transform="translate(757.3 796.52) scale(1.08 1)">30</text>
<text class="yt" transform="translate(757.3 730.9) scale(1.08 1)">40</text>
<text class="xt" x="807.59" y="1009.2">1</text>
<text class="xt" x="887.78" y="1009.2">2</text>
<text class="xt" x="967.97" y="1009.2">3</text>
<text class="xt" x="1048.16" y="1009.2">4</text>
<text class="xt" x="1128.34" y="1009.2">5</text>
<text class="xt" x="1208.53" y="1009.2">6</text>
<text class="xt" x="1288.72" y="1009.2">7</text>
<text class="xt" x="1368.91" y="1009.2">8</text>
<path class="tk" d="M762 988.5H767.5M762 922.88H767.5M762 857.25H767.5M762 791.62H767.5M762 726H767.5M764.5 955.69H767.5M764.5 890.06H767.5M764.5 824.44H767.5M764.5 758.81H767.5M807.59 988.5V991.7M887.78 988.5V991.7M967.97 988.5V991.7M1048.16 988.5V991.7M1128.34 988.5V991.7M1208.53 988.5V991.7M1288.72 988.5V991.7M1368.91 988.5V991.7"/>
<text class="el" x="779.7" y="749.5">Cu</text>
<text class="yl" transform="translate(732 854.65) rotate(-90) scale(1 0.98)">Concentration (nmol L<tspan font-size="12.5" dy="-7">-1</tspan><tspan dy="7">)</tspan></text>
<text class="lt" x="710.26" y="703.8">F</text>
</g>
<g id="panel-G">
<rect class="bar" x="73.2" y="1229.3" width="9.61" height="98.7" fill="url(#gb)"/>
<path class="eb" d="M78.01 1224.1V1234.5M75.01 1224.1H81.01M75.01 1234.5H81.01"/>
<rect class="bar" x="83.17" y="1319.3" width="9.61" height="8.7" fill="url(#gp)"/>
<rect class="bar" x="103.1" y="1324.3" width="9.61" height="3.7" fill="url(#gy)"/>
<rect class="bar" x="113.06" y="1324.3" width="9.61" height="3.7" fill="url(#gr)"/>
<rect class="bar" x="144.48" y="1227.3" width="9.61" height="100.7" fill="url(#gb)"/>
<path class="eb" d="M149.29 1221.6V1233M146.29 1221.6H152.29M146.29 1233H152.29"/>
<rect class="bar" x="154.44" y="1321" width="9.61" height="7" fill="url(#gp)"/>
<rect class="bar" x="164.41" y="1316.8" width="9.61" height="11.2" fill="url(#gg)"/>
<path class="eb" d="M169.22 1316.2V1317.4M166.62 1316.2H171.82M166.62 1317.4H171.82"/>
<rect class="bar" x="174.37" y="1309.8" width="9.61" height="18.2" fill="url(#gy)"/>
<path class="eb" d="M179.18 1309V1310.6M176.58 1309H181.78M176.58 1310.6H181.78"/>
<rect class="bar" x="184.34" y="1320.5" width="9.61" height="7.5" fill="url(#gr)"/>
<rect class="bar" x="215.76" y="1238.5" width="9.61" height="89.5" fill="url(#gb)"/>
<path class="eb" d="M220.57 1233.5V1243.5M217.57 1233.5H223.57M217.57 1243.5H223.57"/>
<rect class="bar" x="225.72" y="1324.8" width="9.61" height="3.2" fill="url(#gp)"/>
<rect class="bar" x="235.69" y="1291.8" width="9.61" height="36.2" fill="url(#gg)"/>
<path class="eb" d="M240.49 1290V1293.6M237.89 1290H243.09M237.89 1293.6H243.09"/>
<rect class="bar" x="245.65" y="1325.5" width="9.61" height="2.5" fill="url(#gy)"/>
<rect class="bar" x="255.62" y="1294.8" width="9.61" height="33.2" fill="url(#gr)"/>
<path class="eb" d="M260.42 1293V1296.6M257.82 1293H263.02M257.82 1296.6H263.02"/>
<rect class="bar" x="287.04" y="1231" width="9.61" height="97" fill="url(#gb)"/>
<path class="eb" d="M291.84 1226V1236M288.84 1226H294.84M288.84 1236H294.84"/>
<rect class="bar" x="297" y="1295.5" width="9.61" height="32.5" fill="url(#gp)"/>
<path class="eb" d="M301.81 1294V1297M299.21 1294H304.41M299.21 1297H304.41"/>
<rect class="bar" x="306.96" y="1323.5" width="9.61" height="4.5" fill="url(#gg)"/>
<rect class="bar" x="326.89" y="1326.5" width="9.61" height="1.5" fill="url(#gr)"/>
<rect class="bar" x="358.31" y="1244.8" width="9.61" height="83.2" fill="url(#gb)"/>
<path class="eb" d="M363.12 1239.8V1249.8M360.12 1239.8H366.12M360.12 1249.8H366.12"/>
<rect class="bar" x="368.28" y="1312.3" width="9.61" height="15.7" fill="url(#gp)"/>
<path class="eb" d="M373.09 1311.5V1313.1M370.49 1311.5H375.69M370.49 1313.1H375.69"/>
<rect class="bar" x="378.24" y="1324.8" width="9.61" height="3.2" fill="url(#gg)"/>
<rect class="bar" x="388.21" y="1279" width="9.61" height="49" fill="url(#gy)"/>
<path class="eb" d="M393.01 1276.8V1281.2M390.01 1276.8H396.01M390.01 1281.2H396.01"/>
<rect class="bar" x="398.17" y="1316.5" width="9.61" height="11.5" fill="url(#gr)"/>
<path class="eb" d="M402.98 1315.9V1317.1M400.38 1315.9H405.58M400.38 1317.1H405.58"/>
<rect class="bar" x="429.59" y="1211.5" width="9.61" height="116.5" fill="url(#gb)"/>
<path class="eb" d="M434.4 1205.3V1217.7M431.4 1205.3H437.4M431.4 1217.7H437.4"/>
<rect class="bar" x="439.56" y="1322.3" width="9.61" height="5.7" fill="url(#gp)"/>
<rect class="bar" x="449.52" y="1326" width="9.61" height="2" fill="url(#gg)"/>
<rect class="bar" x="459.49" y="1326" width="9.61" height="2" fill="url(#gy)"/>
<rect class="bar" x="469.45" y="1318" width="9.61" height="10" fill="url(#gr)"/>
<path class="eb" d="M474.26 1317.3V1318.7M471.66 1317.3H476.86M471.66 1318.7H476.86"/>
<rect class="bar" x="500.87" y="1229" width="9.61" height="99" fill="url(#gb)"/>
<path class="eb" d="M505.68 1224V1234M502.68 1224H508.68M502.68 1234H508.68"/>
<rect class="bar" x="510.83" y="1314.8" width="9.61" height="13.2" fill="url(#gp)"/>
<path class="eb" d="M515.64 1314.2V1315.4M513.04 1314.2H518.24M513.04 1315.4H518.24"/>
<rect class="bar" x="530.76" y="1315.3" width="9.61" height="12.7" fill="url(#gy)"/>
<path class="eb" d="M535.57 1314.7V1315.9M532.97 1314.7H538.17M532.97 1315.9H538.17"/>
<rect class="bar" x="540.73" y="1310.3" width="9.61" height="17.7" fill="url(#gr)"/>
<path class="eb" d="M545.53 1309.5V1311.1M542.93 1309.5H548.13M542.93 1311.1H548.13"/>
<rect class="bar" x="572.15" y="1245.3" width="9.61" height="82.7" fill="url(#gb)"/>
<path class="eb" d="M576.95 1240.6V1250M573.95 1240.6H579.95M573.95 1250H579.95"/>
<rect class="bar" x="582.11" y="1326.5" width="9.61" height="1.5" fill="url(#gp)"/>
<rect class="bar" x="592.08" y="1291" width="9.61" height="37" fill="url(#gg)"/>
<path class="eb" d="M596.88 1289.5V1292.5M594.28 1289.5H599.48M594.28 1292.5H599.48"/>
<rect class="bar" x="602.04" y="1326.5" width="9.61" height="1.5" fill="url(#gy)"/>
<rect class="bar" x="612.01" y="1278.5" width="9.61" height="49.5" fill="url(#gr)"/>
<path class="eb" d="M616.81 1275.5V1281.5M613.81 1275.5H619.81M613.81 1281.5H619.81"/>
<rect class="bar" x="643.42" y="1209" width="9.61" height="119" fill="url(#gb)"/>
<path class="eb" d="M648.23 1208V1210M645.63 1208H650.83M645.63 1210H650.83"/>
<rect class="bar" x="653.39" y="1327.2" width="9.61" height="0.8" fill="url(#gp)"/>
<rect class="bar" x="663.35" y="1321.8" width="9.61" height="6.2" fill="url(#gg)"/>
<rect class="bar" x="673.32" y="1326.5" width="9.61" height="1.5" fill="url(#gy)"/>
<rect class="bar" x="683.28" y="1321" width="9.61" height="7" fill="url(#gr)"/>
<rect class="ax" x="62.3" y="1065.4" width="641.5" height="262.6"/>
<text class="yt" transform="translate(52.1 1332.9) scale(1.08 1)">0</text>
<text class="yt" transform="translate(52.1 1285.15) scale(1.08 1)">80</text>
<text class="yt" transform="translate(52.1 1237.41) scale(1.08 1)">160</text>
<text class="yt" transform="translate(52.1 1189.66) scale(1.08 1)">240</text>
<text class="yt" transform="translate(52.1 1141.92) scale(1.08 1)">320</text>
<text class="yt" transform="translate(52.1 1094.17) scale(1.08 1)">400</text>
<text class="xt" x="97.94" y="1348.7">1</text>
<text class="xt" x="169.22" y="1348.7">2</text>
<text class="xt" x="240.49" y="1348.7">3</text>
<text class="xt" x="311.77" y="1348.7">4</text>
<text class="xt" x="383.05" y="1348.7">5</text>
<text class="xt" x="454.33" y="1348.7">6</text>
<text class="xt" x="525.61" y="1348.7">7</text>
<text class="xt" x="596.88" y="1348.7">8</text>
<text class="xt" x="668.16" y="1348.7">9</text>
<path class="tk" d="M56.8 1328H62.3M56.8 1280.25H62.3M56.8 1232.51H62.3M56.8 1184.76H62.3M56.8 1137.02H62.3M56.8 1089.27H62.3M59.3 1304.13H62.3M59.3 1256.38H62.3M59.3 1208.64H62.3M59.3 1160.89H62.3M59.3 1113.15H62.3M97.94 1328V1331.2M169.22 1328V1331.2M240.49 1328V1331.2M311.77 1328V1331.2M383.05 1328V1331.2M454.33 1328V1331.2M525.61 1328V1331.2M596.88 1328V1331.2M668.16 1328V1331.2"/>
<text class="el" x="74.2" y="1092">Zn</text>
<text class="yl" transform="translate(21.7 1194.1) rotate(-90) scale(1 0.98)">Concentration (nmol L<tspan font-size="12.5" dy="-7">-1</tspan><tspan dy="7">)</tspan></text>
<text class="lt" x="13.41" y="1047.8">G</text>
</g>
<g id="panel-H">
<rect class="bar" x="779.94" y="1288" width="10.86" height="40" fill="url(#gb)"/>
<path class="eb" d="M785.37 1286.5V1289.5M782.77 1286.5H787.97M782.77 1289.5H787.97"/>
<rect class="bar" x="860.1" y="1287.5" width="10.86" height="40.5" fill="url(#gb)"/>
<path class="eb" d="M865.53 1285.5V1289.5M862.53 1285.5H868.53M862.53 1289.5H868.53"/>
<rect class="bar" x="893.72" y="1320.5" width="10.86" height="7.5" fill="url(#gy)"/>
<rect class="bar" x="904.93" y="1326" width="10.86" height="2" fill="url(#gr)"/>
<rect class="bar" x="940.26" y="1255.3" width="10.86" height="72.7" fill="url(#gb)"/>
<path class="eb" d="M945.69 1251.1V1259.5M942.69 1251.1H948.69M942.69 1259.5H948.69"/>
<rect class="bar" x="973.88" y="1321" width="10.86" height="7" fill="url(#gy)"/>
<rect class="bar" x="985.09" y="1326" width="10.86" height="2" fill="url(#gr)"/>
<rect class="bar" x="1020.43" y="1281" width="10.86" height="47" fill="url(#gb)"/>
<path class="eb" d="M1025.86 1278.5V1283.5M1022.86 1278.5H1028.86M1022.86 1283.5H1028.86"/>
<rect class="bar" x="1100.59" y="1099" width="10.86" height="229" fill="url(#gb)"/>
<path class="eb" d="M1106.02 1093V1105M1103.02 1093H1109.02M1103.02 1105H1109.02"/>
<rect class="bar" x="1111.8" y="1311" width="10.86" height="17" fill="url(#gp)"/>
<path class="eb" d="M1117.22 1310.2V1311.8M1114.62 1310.2H1119.82M1114.62 1311.8H1119.82"/>
<rect class="bar" x="1123" y="1313" width="10.86" height="15" fill="url(#gg)"/>
<path class="eb" d="M1128.43 1312.2V1313.8M1125.83 1312.2H1131.03M1125.83 1313.8H1131.03"/>
<rect class="bar" x="1134.21" y="1323" width="10.86" height="5" fill="url(#gy)"/>
<rect class="bar" x="1145.42" y="1299" width="10.86" height="29" fill="url(#gr)"/>
<path class="eb" d="M1150.84 1297.5V1300.5M1148.24 1297.5H1153.44M1148.24 1300.5H1153.44"/>
<rect class="bar" x="1180.75" y="1221.5" width="10.86" height="106.5" fill="url(#gb)"/>
<path class="eb" d="M1186.18 1216.5V1226.5M1183.18 1216.5H1189.18M1183.18 1226.5H1189.18"/>
<rect class="bar" x="1191.96" y="1321.8" width="10.86" height="6.2" fill="url(#gp)"/>
<rect class="bar" x="1203.17" y="1327.2" width="10.86" height="0.8" fill="url(#gg)"/>
<rect class="bar" x="1214.37" y="1317.3" width="10.86" height="10.7" fill="url(#gy)"/>
<path class="eb" d="M1219.8 1316.6V1318M1217.2 1316.6H1222.4M1217.2 1318H1222.4"/>
<rect class="bar" x="1225.58" y="1216" width="10.86" height="112" fill="url(#gr)"/>
<path class="eb" d="M1231.01 1210.3V1221.7M1228.01 1210.3H1234.01M1228.01 1221.7H1234.01"/>
<rect class="bar" x="1260.91" y="1281" width="10.86" height="47" fill="url(#gb)"/>
<path class="eb" d="M1266.34 1278.5V1283.5M1263.34 1278.5H1269.34M1263.34 1283.5H1269.34"/>
<rect class="bar" x="1294.53" y="1327.2" width="10.86" height="0.8" fill="url(#gy)"/>
<rect class="bar" x="1305.74" y="1266" width="10.86" height="62" fill="url(#gr)"/>
<path class="eb" d="M1311.17 1262.3V1269.7M1308.17 1262.3H1314.17M1308.17 1269.7H1314.17"/>
<rect class="bar" x="1341.08" y="1264.8" width="10.86" height="63.2" fill="url(#gb)"/>
<path class="eb" d="M1346.51 1260.6V1269M1343.51 1260.6H1349.51M1343.51 1269H1349.51"/>
<rect class="bar" x="1352.28" y="1325.5" width="10.86" height="2.5" fill="url(#gp)"/>
<rect class="bar" x="1363.49" y="1321" width="10.86" height="7" fill="url(#gg)"/>
<rect class="bar" x="1374.7" y="1327" width="10.86" height="1" fill="url(#gy)"/>
<rect class="bar" x="1385.9" y="1322.3" width="10.86" height="5.7" fill="url(#gr)"/>
<rect class="ax" x="767.7" y="1065.5" width="641.3" height="262.5"/>
<text class="yt" transform="translate(757.5 1332.9) scale(1.08 1)">0</text>
<text class="yt" transform="translate(757.5 1285.17) scale(1.08 1)">80</text>
<text class="yt" transform="translate(757.5 1237.45) scale(1.08 1)">160</text>
<text class="yt" transform="translate(757.5 1189.72) scale(1.08 1)">240</text>
<text class="yt" transform="translate(757.5 1141.99) scale(1.08 1)">320</text>
<text class="yt" transform="translate(757.5 1094.26) scale(1.08 1)">400</text>
<text class="xt" x="807.78" y="1348.7">1</text>
<text class="xt" x="887.94" y="1348.7">2</text>
<text class="xt" x="968.11" y="1348.7">3</text>
<text class="xt" x="1048.27" y="1348.7">4</text>
<text class="xt" x="1128.43" y="1348.7">5</text>
<text class="xt" x="1208.59" y="1348.7">6</text>
<text class="xt" x="1288.76" y="1348.7">7</text>
<text class="xt" x="1368.92" y="1348.7">8</text>
<path class="tk" d="M762.2 1328H767.7M762.2 1280.27H767.7M762.2 1232.55H767.7M762.2 1184.82H767.7M762.2 1137.09H767.7M762.2 1089.36H767.7M764.7 1304.14H767.7M764.7 1256.41H767.7M764.7 1208.68H767.7M764.7 1160.95H767.7M764.7 1113.23H767.7M807.78 1328V1331.2M887.94 1328V1331.2M968.11 1328V1331.2M1048.27 1328V1331.2M1128.43 1328V1331.2M1208.59 1328V1331.2M1288.76 1328V1331.2M1368.92 1328V1331.2"/>
<text class="el" x="779.7" y="1089.5">Zn</text>
<text class="yl" transform="translate(727.1 1194.15) rotate(-90) scale(1 0.98)">Concentration (nmol L<tspan font-size="12.5" dy="-7">-1</tspan><tspan dy="7">)</tspan></text>
<text class="lt" x="710.26" y="1047.7">H</text>
</g>
<g id="panel-I">
<rect class="bar" x="73.2" y="1501.8" width="9.61" height="166.2" fill="url(#gb)"/>
<path class="eb" d="M78.01 1493.1V1510.5M75.01 1493.1H81.01M75.01 1510.5H81.01"/>
<rect class="bar" x="83.17" y="1663.5" width="9.61" height="4.5" fill="url(#gp)"/>
<rect class="bar" x="93.13" y="1643" width="9.61" height="25" fill="url(#gg)"/>
<path class="eb" d="M97.94 1642.2V1643.8M95.34 1642.2H100.54M95.34 1643.8H100.54"/>
<rect class="bar" x="103.1" y="1658.5" width="9.61" height="9.5" fill="url(#gy)"/>
<rect class="bar" x="113.06" y="1570.3" width="9.61" height="97.7" fill="url(#gr)"/>
<path class="eb" d="M117.87 1564.3V1576.3M114.87 1564.3H120.87M114.87 1576.3H120.87"/>
<rect class="bar" x="144.48" y="1465.5" width="9.61" height="202.5" fill="url(#gb)"/>
<path class="eb" d="M149.29 1454.8V1476.2M146.29 1454.8H152.29M146.29 1476.2H152.29"/>
<rect class="bar" x="154.44" y="1663.5" width="9.61" height="4.5" fill="url(#gp)"/>
<rect class="bar" x="184.34" y="1663.5" width="9.61" height="4.5" fill="url(#gr)"/>
<rect class="bar" x="215.76" y="1512.3" width="9.61" height="155.7" fill="url(#gb)"/>
<path class="eb" d="M220.57 1504.1V1520.5M217.57 1504.1H223.57M217.57 1520.5H223.57"/>
<rect class="bar" x="235.69" y="1653.5" width="9.61" height="14.5" fill="url(#gg)"/>
<path class="eb" d="M240.49 1653V1654M237.89 1653H243.09M237.89 1654H243.09"/>
<rect class="bar" x="255.62" y="1601.5" width="9.61" height="66.5" fill="url(#gr)"/>
<path class="eb" d="M260.42 1597.3V1605.7M257.42 1597.3H263.42M257.42 1605.7H263.42"/>
<rect class="bar" x="287.04" y="1512.3" width="9.61" height="155.7" fill="url(#gb)"/>
<path class="eb" d="M291.84 1504.1V1520.5M288.84 1504.1H294.84M288.84 1520.5H294.84"/>
<rect class="bar" x="297" y="1658" width="9.61" height="10" fill="url(#gp)"/>
<path class="eb" d="M301.81 1657.3V1658.7M299.21 1657.3H304.41M299.21 1658.7H304.41"/>
<rect class="bar" x="326.89" y="1616.8" width="9.61" height="51.2" fill="url(#gr)"/>
<path class="eb" d="M331.7 1613.6V1620M328.7 1613.6H334.7M328.7 1620H334.7"/>
<rect class="bar" x="358.31" y="1523" width="9.61" height="145" fill="url(#gb)"/>
<path class="eb" d="M363.12 1515.3V1530.7M360.12 1515.3H366.12M360.12 1530.7H366.12"/>
<rect class="bar" x="368.28" y="1637.8" width="9.61" height="30.2" fill="url(#gp)"/>
<path class="eb" d="M373.09 1636.6V1639M370.49 1636.6H375.69M370.49 1639H375.69"/>
<rect class="bar" x="378.24" y="1658.5" width="9.61" height="9.5" fill="url(#gg)"/>
<rect class="bar" x="398.17" y="1606.5" width="9.61" height="61.5" fill="url(#gr)"/>
<path class="eb" d="M402.98 1602.8V1610.2M399.98 1602.8H405.98M399.98 1610.2H405.98"/>
<rect class="bar" x="429.59" y="1523" width="9.61" height="145" fill="url(#gb)"/>
<path class="eb" d="M434.4 1515.3V1530.7M431.4 1515.3H437.4M431.4 1530.7H437.4"/>
<rect class="bar" x="439.56" y="1648" width="9.61" height="20" fill="url(#gp)"/>
<path class="eb" d="M444.36 1647V1649M441.76 1647H446.96M441.76 1649H446.96"/>
<rect class="bar" x="449.52" y="1658.5" width="9.61" height="9.5" fill="url(#gg)"/>
<rect class="bar" x="469.45" y="1606.5" width="9.61" height="61.5" fill="url(#gr)"/>
<path class="eb" d="M474.26 1602.8V1610.2M471.26 1602.8H477.26M471.26 1610.2H477.26"/>
<rect class="bar" x="500.87" y="1523" width="9.61" height="145" fill="url(#gb)"/>
<path class="eb" d="M505.68 1515.3V1530.7M502.68 1515.3H508.68M502.68 1530.7H508.68"/>
<rect class="bar" x="510.83" y="1663.5" width="9.61" height="4.5" fill="url(#gp)"/>
<rect class="bar" x="520.8" y="1658.5" width="9.61" height="9.5" fill="url(#gg)"/>
<rect class="bar" x="530.76" y="1643" width="9.61" height="25" fill="url(#gy)"/>
<path class="eb" d="M535.57 1642V1644M532.97 1642H538.17M532.97 1644H538.17"/>
<rect class="bar" x="540.73" y="1653.5" width="9.61" height="14.5" fill="url(#gr)"/>
<path class="eb" d="M545.53 1653V1654M542.93 1653H548.13M542.93 1654H548.13"/>
<rect class="bar" x="572.15" y="1528" width="9.61" height="140" fill="url(#gb)"/>
<path class="eb" d="M576.95 1520.5V1535.5M573.95 1520.5H579.95M573.95 1535.5H579.95"/>
<rect class="bar" x="582.11" y="1658.5" width="9.61" height="9.5" fill="url(#gp)"/>
<rect class="bar" x="592.08" y="1663.5" width="9.61" height="4.5" fill="url(#gg)"/>
<rect class="bar" x="602.04" y="1663.5" width="9.61" height="4.5" fill="url(#gy)"/>
<rect class="bar" x="612.01" y="1575.3" width="9.61" height="92.7" fill="url(#gr)"/>
<path class="eb" d="M616.81 1570.3V1580.3M613.81 1570.3H619.81M613.81 1580.3H619.81"/>
<rect class="bar" x="643.42" y="1486.5" width="9.61" height="181.5" fill="url(#gb)"/>
<path class="eb" d="M648.23 1476.5V1496.5M645.23 1476.5H651.23M645.23 1496.5H651.23"/>
<rect class="bar" x="653.39" y="1663.5" width="9.61" height="4.5" fill="url(#gp)"/>
<rect class="bar" x="683.28" y="1653.5" width="9.61" height="14.5" fill="url(#gr)"/>
<path class="eb" d="M688.09 1652.9V1654.1M685.49 1652.9H690.69M685.49 1654.1H690.69"/>
<rect class="ax" x="62.3" y="1405.4" width="641.5" height="262.6"/>
<text class="yt" transform="translate(52.1 1672.9) scale(1.08 1)">0.0</text>
<text class="yt" transform="translate(52.1 1607.25) scale(1.08 1)">0.4</text>
<text class="yt" transform="translate(52.1 1541.6) scale(1.08 1)">0.8</text>
<text class="yt" transform="translate(52.1 1475.95) scale(1.08 1)">1.2</text>
<text class="yt" transform="translate(52.1 1410.3) scale(1.08 1)">1.6</text>
<text class="xt" x="97.94" y="1688.7">1</text>
<text class="xt" x="169.22" y="1688.7">2</text>
<text class="xt" x="240.49" y="1688.7">3</text>
<text class="xt" x="311.77" y="1688.7">4</text>
<text class="xt" x="383.05" y="1688.7">5</text>
<text class="xt" x="454.33" y="1688.7">6</text>
<text class="xt" x="525.61" y="1688.7">7</text>
<text class="xt" x="596.88" y="1688.7">8</text>
<text class="xt" x="668.16" y="1688.7">9</text>
<path class="tk" d="M56.8 1668H62.3M56.8 1602.35H62.3M56.8 1536.7H62.3M56.8 1471.05H62.3M56.8 1405.4H62.3M59.3 1635.17H62.3M59.3 1569.53H62.3M59.3 1503.88H62.3M59.3 1438.23H62.3M97.94 1668V1671.2M169.22 1668V1671.2M240.49 1668V1671.2M311.77 1668V1671.2M383.05 1668V1671.2M454.33 1668V1671.2M525.61 1668V1671.2M596.88 1668V1671.2M668.16 1668V1671.2"/>
<text class="el" x="72.7" y="1432">Cd</text>
<text class="yl" transform="translate(21.5 1534.1) rotate(-90) scale(1 0.98)">Concentration (nmol L<tspan font-size="12.5" dy="-7">-1</tspan><tspan dy="7">)</tspan></text>
<text class="lt" x="13.66" y="1388.5">I</text>
</g>
<g id="panel-J">
<rect class="bar" x="781.44" y="1527.8" width="10.85" height="140.2" fill="url(#gb)"/>
<path class="eb" d="M786.87 1520.6V1535M783.87 1520.6H789.87M783.87 1535H789.87"/>
<rect class="bar" x="792.64" y="1664" width="10.85" height="4" fill="url(#gp)"/>
<rect class="bar" x="826.26" y="1606.5" width="10.85" height="61.5" fill="url(#gr)"/>
<path class="eb" d="M831.68 1602.8V1610.2M828.68 1602.8H834.68M828.68 1610.2H834.68"/>
<rect class="bar" x="861.59" y="1553.5" width="10.85" height="114.5" fill="url(#gb)"/>
<path class="eb" d="M867.02 1547.8V1559.2M864.02 1547.8H870.02M864.02 1559.2H870.02"/>
<rect class="bar" x="884" y="1648" width="10.85" height="20" fill="url(#gg)"/>
<path class="eb" d="M889.43 1647.2V1648.8M886.83 1647.2H892.03M886.83 1648.8H892.03"/>
<rect class="bar" x="895.2" y="1658.5" width="10.85" height="9.5" fill="url(#gy)"/>
<rect class="bar" x="941.74" y="1465.5" width="10.85" height="202.5" fill="url(#gb)"/>
<path class="eb" d="M947.17 1454.8V1476.2M944.17 1454.8H950.17M944.17 1476.2H950.17"/>
<rect class="bar" x="952.94" y="1653" width="10.85" height="15" fill="url(#gp)"/>
<path class="eb" d="M958.37 1652.4V1653.6M955.77 1652.4H960.97M955.77 1653.6H960.97"/>
<rect class="bar" x="975.35" y="1658.5" width="10.85" height="9.5" fill="url(#gy)"/>
<rect class="bar" x="1021.89" y="1564.8" width="10.85" height="103.2" fill="url(#gb)"/>
<path class="eb" d="M1027.32 1559.1V1570.5M1024.32 1559.1H1030.32M1024.32 1570.5H1030.32"/>
<rect class="bar" x="1033.09" y="1631.8" width="10.85" height="36.2" fill="url(#gp)"/>
<path class="eb" d="M1038.52 1630.6V1633M1035.92 1630.6H1041.12M1035.92 1633H1041.12"/>
<rect class="bar" x="1044.3" y="1653" width="10.85" height="15" fill="url(#gg)"/>
<path class="eb" d="M1049.73 1652.4V1653.6M1047.13 1652.4H1052.33M1047.13 1653.6H1052.33"/>
<rect class="bar" x="1102.04" y="1517.8" width="10.85" height="150.2" fill="url(#gb)"/>
<path class="eb" d="M1107.47 1509.8V1525.8M1104.47 1509.8H1110.47M1104.47 1525.8H1110.47"/>
<rect class="bar" x="1124.45" y="1631.8" width="10.85" height="36.2" fill="url(#gg)"/>
<path class="eb" d="M1129.88 1630.6V1633M1127.28 1630.6H1132.47M1127.28 1633H1132.47"/>
<rect class="bar" x="1146.86" y="1658.5" width="10.85" height="9.5" fill="url(#gr)"/>
<rect class="bar" x="1182.19" y="1496.5" width="10.85" height="171.5" fill="url(#gb)"/>
<path class="eb" d="M1187.62 1487.3V1505.7M1184.62 1487.3H1190.62M1184.62 1505.7H1190.62"/>
<rect class="bar" x="1193.39" y="1648" width="10.85" height="20" fill="url(#gp)"/>
<path class="eb" d="M1198.82 1647V1649M1196.22 1647H1201.42M1196.22 1649H1201.42"/>
<rect class="bar" x="1204.6" y="1631.8" width="10.85" height="36.2" fill="url(#gg)"/>
<path class="eb" d="M1210.03 1630.6V1633M1207.43 1630.6H1212.62M1207.43 1633H1212.62"/>
<rect class="bar" x="1215.8" y="1663.5" width="10.85" height="4.5" fill="url(#gy)"/>
<rect class="bar" x="1227.01" y="1643" width="10.85" height="25" fill="url(#gr)"/>
<path class="eb" d="M1232.43 1642V1644M1229.83 1642H1235.03M1229.83 1644H1235.03"/>
<rect class="bar" x="1262.34" y="1564.8" width="10.85" height="103.2" fill="url(#gb)"/>
<path class="eb" d="M1267.77 1559.1V1570.5M1264.77 1559.1H1270.77M1264.77 1570.5H1270.77"/>
<rect class="bar" x="1295.95" y="1648" width="10.85" height="20" fill="url(#gy)"/>
<path class="eb" d="M1301.38 1647V1649M1298.78 1647H1303.98M1298.78 1649H1303.98"/>
<rect class="bar" x="1307.16" y="1631.8" width="10.85" height="36.2" fill="url(#gr)"/>
<path class="eb" d="M1312.58 1630.6V1633M1309.98 1630.6H1315.18M1309.98 1633H1315.18"/>
<rect class="bar" x="1342.49" y="1501.8" width="10.85" height="166.2" fill="url(#gb)"/>
<path class="eb" d="M1347.92 1493.1V1510.5M1344.92 1493.1H1350.92M1344.92 1510.5H1350.92"/>
<rect class="bar" x="1376.1" y="1648" width="10.85" height="20" fill="url(#gy)"/>
<path class="eb" d="M1381.53 1647V1649M1378.93 1647H1384.13M1378.93 1649H1384.13"/>
<rect class="bar" x="1387.31" y="1637.3" width="10.85" height="30.7" fill="url(#gr)"/>
<path class="eb" d="M1392.73 1635.8V1638.8M1390.13 1635.8H1395.33M1390.13 1638.8H1395.33"/>
<rect class="ax" x="769.2" y="1405.5" width="641.2" height="262.5"/>
<text class="yt" transform="translate(759 1672.9) scale(1.08 1)">0.0</text>
<text class="yt" transform="translate(759 1607.28) scale(1.08 1)">0.4</text>
<text class="yt" transform="translate(759 1541.65) scale(1.08 1)">0.8</text>
<text class="yt" transform="translate(759 1476.03) scale(1.08 1)">1.2</text>
<text class="yt" transform="translate(759 1410.4) scale(1.08 1)">1.6</text>
<text class="xt" x="809.28" y="1688.7">1</text>
<text class="xt" x="889.43" y="1688.7">2</text>
<text class="xt" x="969.58" y="1688.7">3</text>
<text class="xt" x="1049.73" y="1688.7">4</text>
<text class="xt" x="1129.88" y="1688.7">5</text>
<text class="xt" x="1210.03" y="1688.7">6</text>
<text class="xt" x="1290.18" y="1688.7">7</text>
<text class="xt" x="1370.33" y="1688.7">8</text>
<path class="tk" d="M763.7 1668H769.2M763.7 1602.38H769.2M763.7 1536.75H769.2M763.7 1471.12H769.2M763.7 1405.5H769.2M766.2 1635.19H769.2M766.2 1569.56H769.2M766.2 1503.94H769.2M766.2 1438.31H769.2M809.28 1668V1671.2M889.43 1668V1671.2M969.58 1668V1671.2M1049.73 1668V1671.2M1129.88 1668V1671.2M1210.03 1668V1671.2M1290.18 1668V1671.2M1370.33 1668V1671.2"/>
<text class="el" x="781.7" y="1429.5">Cd</text>
<text class="yl" transform="translate(728.4 1534.15) rotate(-90) scale(1 0.98)">Concentration (nmol L<tspan font-size="12.5" dy="-7">-1</tspan><tspan dy="7">)</tspan></text>
<text class="lt" x="717.95" y="1388.9">J</text>
</g>
<g id="panel-K">
<rect class="bar" x="73.2" y="1951" width="9.61" height="44.5" fill="url(#gb)"/>
<path class="eb" d="M78.01 1949V1953M75.01 1949H81.01M75.01 1953H81.01"/>
<rect class="bar" x="83.17" y="1993" width="9.61" height="2.5" fill="url(#gp)"/>
<rect class="bar" x="93.13" y="1968.5" width="9.61" height="27" fill="url(#gg)"/>
<path class="eb" d="M97.94 1967.5V1969.5M95.34 1967.5H100.54M95.34 1969.5H100.54"/>
<rect class="bar" x="103.1" y="1993" width="9.61" height="2.5" fill="url(#gy)"/>
<rect class="bar" x="113.06" y="1885.5" width="9.61" height="110" fill="url(#gr)"/>
<path class="eb" d="M117.87 1879.8V1891.2M114.87 1879.8H120.87M114.87 1891.2H120.87"/>
<rect class="bar" x="144.48" y="1931" width="9.61" height="64.5" fill="url(#gb)"/>
<path class="eb" d="M149.29 1928.5V1933.5M146.29 1928.5H152.29M146.29 1933.5H152.29"/>
<rect class="bar" x="154.44" y="1981.8" width="9.61" height="13.7" fill="url(#gp)"/>
<path class="eb" d="M159.25 1979.3V1984.3M156.25 1979.3H162.25M156.25 1984.3H162.25"/>
<rect class="bar" x="164.41" y="1991.8" width="9.61" height="3.7" fill="url(#gg)"/>
<rect class="bar" x="184.34" y="1904.3" width="9.61" height="91.2" fill="url(#gr)"/>
<path class="eb" d="M189.15 1899.8V1908.8M186.15 1899.8H192.15M186.15 1908.8H192.15"/>
<rect class="bar" x="215.76" y="1968.5" width="9.61" height="27" fill="url(#gb)"/>
<path class="eb" d="M220.57 1967.5V1969.5M217.97 1967.5H223.17M217.97 1969.5H223.17"/>
<rect class="bar" x="225.72" y="1993.5" width="9.61" height="2" fill="url(#gp)"/>
<rect class="bar" x="255.62" y="1881" width="9.61" height="114.5" fill="url(#gr)"/>
<path class="eb" d="M260.42 1875.5V1886.5M257.42 1875.5H263.42M257.42 1886.5H263.42"/>
<rect class="bar" x="287.04" y="1977.8" width="9.61" height="17.7" fill="url(#gb)"/>
<path class="eb" d="M291.84 1977V1978.6M289.24 1977H294.44M289.24 1978.6H294.44"/>
<rect class="bar" x="297" y="1993.5" width="9.61" height="2" fill="url(#gp)"/>
<rect class="bar" x="306.96" y="1990.5" width="9.61" height="5" fill="url(#gg)"/>
<rect class="bar" x="326.89" y="1815.3" width="9.61" height="180.2" fill="url(#gr)"/>
<path class="eb" d="M331.7 1806.1V1824.5M328.7 1806.1H334.7M328.7 1824.5H334.7"/>
<rect class="bar" x="358.31" y="1968.5" width="9.61" height="27" fill="url(#gb)"/>
<path class="eb" d="M363.12 1967.5V1969.5M360.52 1967.5H365.72M360.52 1969.5H365.72"/>
<rect class="bar" x="388.21" y="1990.5" width="9.61" height="5" fill="url(#gy)"/>
<rect class="bar" x="398.17" y="1866.5" width="9.61" height="129" fill="url(#gr)"/>
<path class="eb" d="M402.98 1859.8V1873.2M399.98 1859.8H405.98M399.98 1873.2H405.98"/>
<rect class="bar" x="429.59" y="1988.5" width="9.61" height="7" fill="url(#gb)"/>
<rect class="bar" x="439.56" y="1975.5" width="9.61" height="20" fill="url(#gp)"/>
<path class="eb" d="M444.36 1974.5V1976.5M441.76 1974.5H446.96M441.76 1976.5H446.96"/>
<rect class="bar" x="449.52" y="1991.8" width="9.61" height="3.7" fill="url(#gg)"/>
<rect class="bar" x="459.49" y="1987.3" width="9.61" height="8.2" fill="url(#gy)"/>
<rect class="bar" x="469.45" y="1897.3" width="9.61" height="98.2" fill="url(#gr)"/>
<path class="eb" d="M474.26 1891.8V1902.8M471.26 1891.8H477.26M471.26 1902.8H477.26"/>
<rect class="bar" x="500.87" y="1971.8" width="9.61" height="23.7" fill="url(#gb)"/>
<path class="eb" d="M505.68 1970.8V1972.8M503.08 1970.8H508.28M503.08 1972.8H508.28"/>
<rect class="bar" x="530.76" y="1989" width="9.61" height="6.5" fill="url(#gy)"/>
<rect class="bar" x="540.73" y="1898.5" width="9.61" height="97" fill="url(#gr)"/>
<path class="eb" d="M545.53 1893.5V1903.5M542.53 1893.5H548.53M542.53 1903.5H548.53"/>
<rect class="bar" x="572.15" y="1969.8" width="9.61" height="25.7" fill="url(#gb)"/>
<path class="eb" d="M576.95 1968.8V1970.8M574.35 1968.8H579.55M574.35 1970.8H579.55"/>
<rect class="bar" x="602.04" y="1970.3" width="9.61" height="25.2" fill="url(#gy)"/>
<path class="eb" d="M606.85 1969.3V1971.3M604.25 1969.3H609.45M604.25 1971.3H609.45"/>
<rect class="bar" x="612.01" y="1910.3" width="9.61" height="85.2" fill="url(#gr)"/>
<path class="eb" d="M616.81 1905.6V1915M613.81 1905.6H619.81M613.81 1915H619.81"/>
<rect class="bar" x="643.42" y="1964.3" width="9.61" height="31.2" fill="url(#gb)"/>
<path class="eb" d="M648.23 1962.8V1965.8M645.63 1962.8H650.83M645.63 1965.8H650.83"/>
<rect class="bar" x="653.39" y="1993" width="9.61" height="2.5" fill="url(#gp)"/>
<rect class="bar" x="663.35" y="1991.8" width="9.61" height="3.7" fill="url(#gg)"/>
<rect class="bar" x="673.32" y="1922.3" width="9.61" height="73.2" fill="url(#gy)"/>
<path class="eb" d="M678.13 1918.1V1926.5M675.13 1918.1H681.13M675.13 1926.5H681.13"/>
<rect class="bar" x="683.28" y="1987.3" width="9.61" height="8.2" fill="url(#gr)"/>
<rect class="ax" x="62.3" y="1732.7" width="641.5" height="262.8"/>
<text class="yt" transform="translate(52.1 2000.4) scale(1.08 1)">0.0</text>
<text class="yt" transform="translate(52.1 1956.6) scale(1.08 1)">0.3</text>
<text class="yt" transform="translate(52.1 1912.8) scale(1.08 1)">0.6</text>
<text class="yt" transform="translate(52.1 1869) scale(1.08 1)">0.9</text>
<text class="yt" transform="translate(52.1 1825.2) scale(1.08 1)">1.2</text>
<text class="yt" transform="translate(52.1 1781.4) scale(1.08 1)">1.5</text>
<text class="yt" transform="translate(52.1 1737.6) scale(1.08 1)">1.8</text>
<text class="xt" x="97.94" y="2016.2">1</text>
<text class="xt" x="169.22" y="2016.2">2</text>
<text class="xt" x="240.49" y="2016.2">3</text>
<text class="xt" x="311.77" y="2016.2">4</text>
<text class="xt" x="383.05" y="2016.2">5</text>
<text class="xt" x="454.33" y="2016.2">6</text>
<text class="xt" x="525.61" y="2016.2">7</text>
<text class="xt" x="596.88" y="2016.2">8</text>
<text class="xt" x="668.16" y="2016.2">9</text>
<path class="tk" d="M56.8 1995.5H62.3M56.8 1951.7H62.3M56.8 1907.9H62.3M56.8 1864.1H62.3M56.8 1820.3H62.3M56.8 1776.5H62.3M56.8 1732.7H62.3M59.3 1973.6H62.3M59.3 1929.8H62.3M59.3 1886H62.3M59.3 1842.2H62.3M59.3 1798.4H62.3M59.3 1754.6H62.3M97.94 1995.5V1998.7M169.22 1995.5V1998.7M240.49 1995.5V1998.7M311.77 1995.5V1998.7M383.05 1995.5V1998.7M454.33 1995.5V1998.7M525.61 1995.5V1998.7M596.88 1995.5V1998.7M668.16 1995.5V1998.7"/>
<text class="el" x="76.7" y="1756.3">Pb</text>
<text class="yl" transform="translate(22.5 1861.5) rotate(-90) scale(1 0.98)">Concentration (nmol L<tspan font-size="12.5" dy="-7">-1</tspan><tspan dy="7">)</tspan></text>
<text class="lt" x="12.96" y="1712">K</text>
</g>
<g id="panel-L">
<rect class="bar" x="779.75" y="1808.7" width="10.87" height="186.5" fill="url(#gb)"/>
<path class="eb" d="M785.19 1798.7V1818.7M782.19 1798.7H788.19M782.19 1818.7H788.19"/>
<rect class="bar" x="790.97" y="1949.5" width="10.87" height="45.7" fill="url(#gp)"/>
<path class="eb" d="M796.41 1947.5V1951.5M793.41 1947.5H799.41M793.41 1951.5H799.41"/>
<rect class="bar" x="802.19" y="1988.2" width="10.87" height="7" fill="url(#gg)"/>
<rect class="bar" x="813.41" y="1962" width="10.87" height="33.2" fill="url(#gy)"/>
<path class="eb" d="M818.84 1960.5V1963.5M816.24 1960.5H821.44M816.24 1963.5H821.44"/>
<rect class="bar" x="824.63" y="1938.2" width="10.87" height="57" fill="url(#gr)"/>
<path class="eb" d="M830.06 1935.2V1941.2M827.06 1935.2H833.06M827.06 1941.2H833.06"/>
<rect class="bar" x="860" y="1829.5" width="10.87" height="165.7" fill="url(#gb)"/>
<path class="eb" d="M865.44 1820.8V1838.2M862.44 1820.8H868.44M862.44 1838.2H868.44"/>
<rect class="bar" x="871.22" y="1954.5" width="10.87" height="40.7" fill="url(#gp)"/>
<path class="eb" d="M876.66 1952.5V1956.5M873.66 1952.5H879.66M873.66 1956.5H879.66"/>
<rect class="bar" x="904.88" y="1975" width="10.87" height="20.2" fill="url(#gr)"/>
<path class="eb" d="M910.31 1974.2V1975.8M907.71 1974.2H912.91M907.71 1975.8H912.91"/>
<rect class="bar" x="940.25" y="1806.2" width="10.87" height="189" fill="url(#gb)"/>
<path class="eb" d="M945.69 1796.5V1815.9M942.69 1796.5H948.69M942.69 1815.9H948.69"/>
<rect class="bar" x="951.47" y="1990.2" width="10.87" height="5" fill="url(#gp)"/>
<rect class="bar" x="962.69" y="1987" width="10.87" height="8.2" fill="url(#gg)"/>
<rect class="bar" x="973.91" y="1984" width="10.87" height="11.2" fill="url(#gy)"/>
<path class="eb" d="M979.34 1983.3V1984.7M976.74 1983.3H981.94M976.74 1984.7H981.94"/>
<rect class="bar" x="985.13" y="1982.5" width="10.87" height="12.7" fill="url(#gr)"/>
<path class="eb" d="M990.56 1981.8V1983.2M987.96 1981.8H993.16M987.96 1983.2H993.16"/>
<rect class="bar" x="1020.5" y="1841.5" width="10.87" height="153.7" fill="url(#gb)"/>
<path class="eb" d="M1025.94 1833.3V1849.7M1022.94 1833.3H1028.94M1022.94 1849.7H1028.94"/>
<rect class="bar" x="1031.72" y="1968.2" width="10.87" height="27" fill="url(#gp)"/>
<path class="eb" d="M1037.16 1967.2V1969.2M1034.56 1967.2H1039.76M1034.56 1969.2H1039.76"/>
<rect class="bar" x="1042.94" y="1987.5" width="10.87" height="7.7" fill="url(#gg)"/>
<rect class="bar" x="1054.16" y="1980.2" width="10.87" height="15" fill="url(#gy)"/>
<path class="eb" d="M1059.59 1979.4V1981M1056.99 1979.4H1062.19M1056.99 1981H1062.19"/>
<rect class="bar" x="1065.38" y="1991.5" width="10.87" height="3.7" fill="url(#gr)"/>
<rect class="bar" x="1100.75" y="1775.7" width="10.87" height="219.5" fill="url(#gb)"/>
<path class="eb" d="M1106.19 1764V1787.4M1103.19 1764H1109.19M1103.19 1787.4H1109.19"/>
<rect class="bar" x="1111.97" y="1988.7" width="10.87" height="6.5" fill="url(#gp)"/>
<rect class="bar" x="1123.19" y="1976.2" width="10.87" height="19" fill="url(#gg)"/>
<path class="eb" d="M1128.62 1975.4V1977M1126.03 1975.4H1131.22M1126.03 1977H1131.22"/>
<rect class="bar" x="1134.41" y="1989.5" width="10.87" height="5.7" fill="url(#gy)"/>
<rect class="bar" x="1145.63" y="1989.5" width="10.87" height="5.7" fill="url(#gr)"/>
<rect class="bar" x="1181" y="1875.2" width="10.87" height="120" fill="url(#gb)"/>
<path class="eb" d="M1186.44 1868.7V1881.7M1183.44 1868.7H1189.44M1183.44 1881.7H1189.44"/>
<rect class="bar" x="1192.22" y="1991.5" width="10.87" height="3.7" fill="url(#gp)"/>
<rect class="bar" x="1203.44" y="1922.7" width="10.87" height="72.5" fill="url(#gg)"/>
<path class="eb" d="M1208.88 1918.2V1927.2M1205.88 1918.2H1211.88M1205.88 1927.2H1211.88"/>
<rect class="bar" x="1214.66" y="1980.7" width="10.87" height="14.5" fill="url(#gy)"/>
<path class="eb" d="M1220.09 1980V1981.4M1217.49 1980H1222.69M1217.49 1981.4H1222.69"/>
<rect class="bar" x="1225.88" y="1980.7" width="10.87" height="14.5" fill="url(#gr)"/>
<path class="eb" d="M1231.31 1980V1981.4M1228.71 1980H1233.91M1228.71 1981.4H1233.91"/>
<rect class="bar" x="1261.25" y="1900.2" width="10.87" height="95" fill="url(#gb)"/>
<path class="eb" d="M1266.69 1895V1905.4M1263.69 1895H1269.69M1263.69 1905.4H1269.69"/>
<rect class="bar" x="1272.47" y="1988.2" width="10.87" height="7" fill="url(#gp)"/>
<rect class="bar" x="1283.69" y="1976.2" width="10.87" height="19" fill="url(#gg)"/>
<path class="eb" d="M1289.12 1975.4V1977M1286.53 1975.4H1291.72M1286.53 1977H1291.72"/>
<rect class="bar" x="1294.91" y="1992" width="10.87" height="3.2" fill="url(#gy)"/>
<rect class="bar" x="1306.13" y="1956.5" width="10.87" height="38.7" fill="url(#gr)"/>
<path class="eb" d="M1311.56 1954.5V1958.5M1308.56 1954.5H1314.56M1308.56 1958.5H1314.56"/>
<rect class="bar" x="1341.5" y="1854" width="10.87" height="141.2" fill="url(#gb)"/>
<path class="eb" d="M1346.94 1846.3V1861.7M1343.94 1846.3H1349.94M1343.94 1861.7H1349.94"/>
<rect class="bar" x="1352.72" y="1982.5" width="10.87" height="12.7" fill="url(#gp)"/>
<path class="eb" d="M1358.16 1981.9V1983.1M1355.56 1981.9H1360.76M1355.56 1983.1H1360.76"/>
<rect class="bar" x="1363.94" y="1984" width="10.87" height="11.2" fill="url(#gg)"/>
<path class="eb" d="M1369.38 1983.5V1984.5M1366.78 1983.5H1371.97M1366.78 1984.5H1371.97"/>
<rect class="bar" x="1375.16" y="1990.7" width="10.87" height="4.5" fill="url(#gy)"/>
<rect class="bar" x="1386.38" y="1849.5" width="10.87" height="145.7" fill="url(#gr)"/>
<path class="eb" d="M1391.81 1841.3V1857.7M1388.81 1841.3H1394.81M1388.81 1857.7H1394.81"/>
<rect class="ax" x="767.5" y="1732.7" width="642" height="262.5"/>
<text class="yt" transform="translate(757.3 2000.1) scale(1.08 1)">0.0</text>
<text class="yt" transform="translate(757.3 1956.35) scale(1.08 1)">0.3</text>
<text class="yt" transform="translate(757.3 1912.6) scale(1.08 1)">0.6</text>
<text class="yt" transform="translate(757.3 1868.85) scale(1.08 1)">0.9</text>
<text class="yt" transform="translate(757.3 1825.1) scale(1.08 1)">1.2</text>
<text class="yt" transform="translate(757.3 1781.35) scale(1.08 1)">1.5</text>
<text class="yt" transform="translate(757.3 1737.6) scale(1.08 1)">1.8</text>
<text class="xt" x="807.62" y="2015.9">1</text>
<text class="xt" x="887.88" y="2015.9">2</text>
<text class="xt" x="968.12" y="2015.9">3</text>
<text class="xt" x="1048.38" y="2015.9">4</text>
<text class="xt" x="1128.62" y="2015.9">5</text>
<text class="xt" x="1208.88" y="2015.9">6</text>
<text class="xt" x="1289.12" y="2015.9">7</text>
<text class="xt" x="1369.38" y="2015.9">8</text>
<path class="tk" d="M762 1995.2H767.5M762 1951.45H767.5M762 1907.7H767.5M762 1863.95H767.5M762 1820.2H767.5M762 1776.45H767.5M762 1732.7H767.5M764.5 1973.33H767.5M764.5 1929.58H767.5M764.5 1885.83H767.5M764.5 1842.08H767.5M764.5 1798.33H767.5M764.5 1754.58H767.5M807.62 1995.2V1998.4M887.88 1995.2V1998.4M968.12 1995.2V1998.4M1048.38 1995.2V1998.4M1128.62 1995.2V1998.4M1208.88 1995.2V1998.4M1289.12 1995.2V1998.4M1369.38 1995.2V1998.4"/>
<text class="el" x="782.2" y="1756.3">Pb</text>
<text class="yl" transform="translate(727.7 1861.35) rotate(-90) scale(1 0.98)">Concentration (nmol L<tspan font-size="12.5" dy="-7">-1</tspan><tspan dy="7">)</tspan></text>
<text class="lt" x="714.66" y="1711.8">L</text>
</g>
<text class="ti" x="388.5" y="46.8" style="font-size:26px">Spring</text>
<text class="ti" x="1093.1" y="48.2" style="font-size:25.6px">Autumn</text>
<text class="xl" x="379" y="2040.3">Sampling site</text>
<text class="xl" x="1095.9" y="2035.8">Sampling site</text>
<g id="legend">
<rect x="505.5" y="60.5" width="37.5" height="18" rx="1.5" fill="url(#lb)" stroke="#0c0c0c" stroke-width="1.8"/>
<text class="lg" x="552.5" y="75.7">&lt;1 kDa</text>
<rect x="505.5" y="84.1" width="37.5" height="18" rx="1.5" fill="url(#lp)" stroke="#0c0c0c" stroke-width="1.8"/>
<text class="lg" x="549.5" y="99.3">1-3 kDa</text>
<rect x="505.5" y="107.7" width="37.5" height="18" rx="1.5" fill="url(#lgn)" stroke="#0c0c0c" stroke-width="1.8"/>
<text class="lg" x="549.5" y="122.9">3-10 kDa</text>
<rect x="505.5" y="131.3" width="37.5" height="18" rx="1.5" fill="url(#ly)" stroke="#0c0c0c" stroke-width="1.8"/>
<text class="lg" x="549.5" y="146.5">10-100 kDa</text>
<rect x="505.5" y="154.9" width="37.5" height="18" rx="1.5" fill="url(#lr)" stroke="#0c0c0c" stroke-width="1.8"/>
<text class="lg" x="549.5" y="170.1">100 kDa-0.45 μm</text>
</g>
</svg></body></html>
